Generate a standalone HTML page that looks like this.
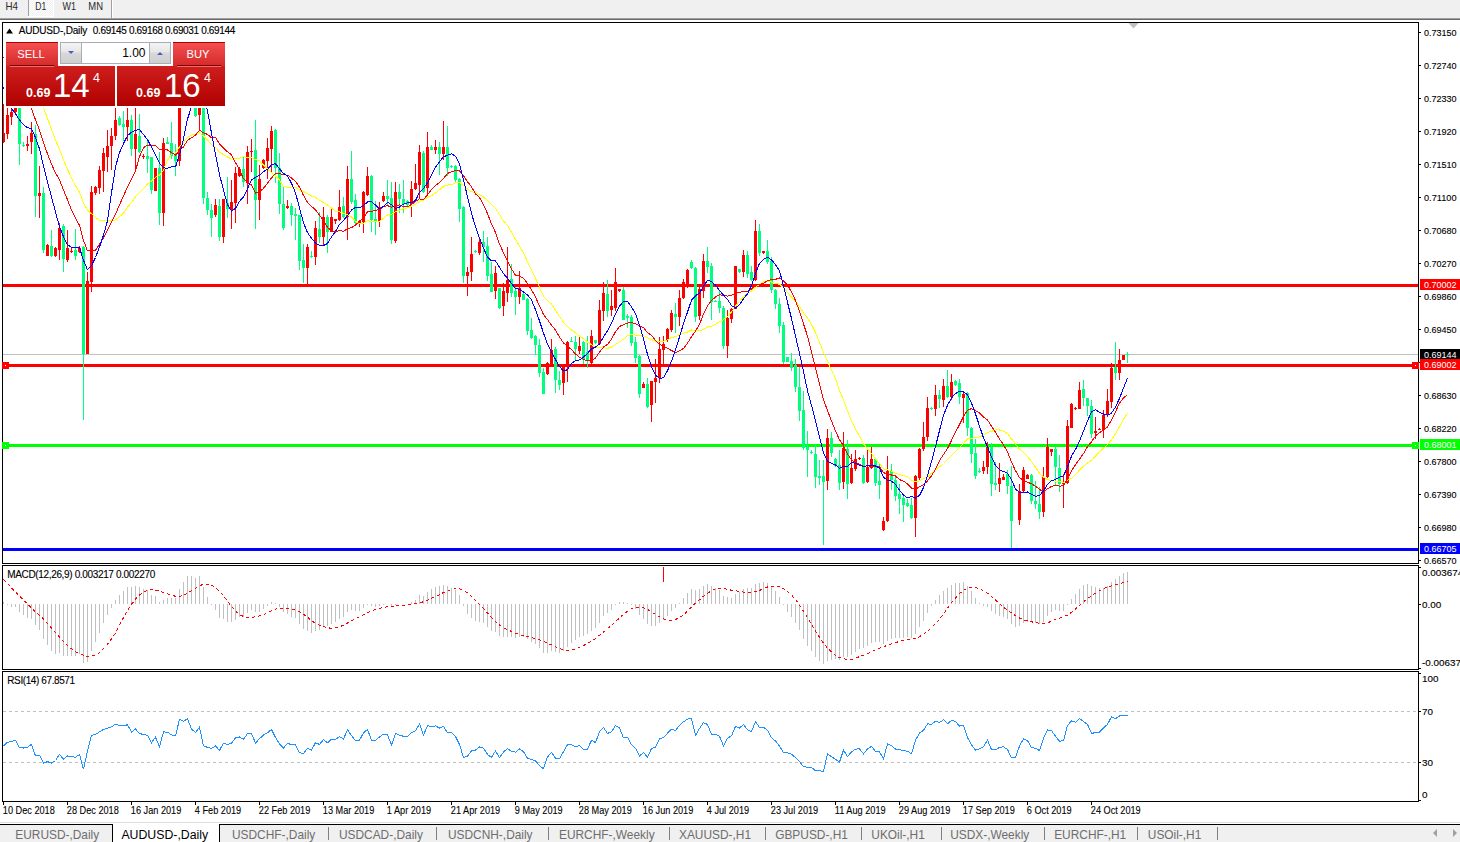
<!DOCTYPE html><html><head><meta charset="utf-8"><style>html,body{margin:0;padding:0;width:1460px;height:842px;overflow:hidden;background:#fff}svg{position:absolute;left:0;top:0;display:block}text{font-family:"Liberation Sans",sans-serif}</style></head><body>
<svg width="1460" height="842" viewBox="0 0 1460 842">
<rect x="0" y="0" width="1460" height="842" fill="#fff"/>
<g shape-rendering="crispEdges">
<rect x="0" y="0" width="1460" height="18" fill="#f0f0f0"/>
<rect x="0" y="18" width="1460" height="1" fill="#a0a0a0"/>
<rect x="0" y="19" width="1460" height="1" fill="#6a6a6a"/>
<defs><pattern id="dith" width="2" height="2" patternUnits="userSpaceOnUse"><rect width="2" height="2" fill="#f0f0f0"/><rect width="1" height="1" fill="#fff"/><rect x="1" y="1" width="1" height="1" fill="#fff"/></pattern></defs>
<rect x="29" y="0" width="24" height="16" fill="url(#dith)"/>
<rect x="28" y="0" width="1" height="16" fill="#a0a0a0"/>
<rect x="53" y="0" width="1" height="17" fill="#fff"/>
<rect x="28" y="16" width="26" height="1" fill="#fff"/>
<rect x="111" y="0" width="1" height="18" fill="#a0a0a0"/>
<rect x="112" y="0" width="1" height="18" fill="#fff"/>
</g>
<g font-size="10.3" fill="#2a2a2a">
<text x="5.5" y="10" textLength="12.5" lengthAdjust="spacingAndGlyphs">H4</text>
<text x="35.2" y="10" textLength="11" lengthAdjust="spacingAndGlyphs">D1</text>
<text x="62.5" y="10" textLength="13.5" lengthAdjust="spacingAndGlyphs">W1</text>
<text x="88.3" y="10" textLength="14.7" lengthAdjust="spacingAndGlyphs">MN</text>
</g>
<g shape-rendering="crispEdges" fill="none" stroke="#000" stroke-width="1">
<rect x="2.5" y="22.5" width="1416" height="541"/>
<rect x="2.5" y="565.5" width="1416" height="104"/>
<rect x="2.5" y="671.5" width="1416" height="130"/>
</g>
<defs><clipPath id="cmain"><rect x="3" y="23" width="1415" height="540"/></clipPath><clipPath id="cmacd"><rect x="3" y="566" width="1415" height="103"/></clipPath><clipPath id="crsi"><rect x="3" y="672" width="1415" height="129"/></clipPath></defs>
<g clip-path="url(#cmain)">
<g shape-rendering="crispEdges">
<rect x="3" y="354" width="1415" height="1" fill="#c0c0c0"/>
<rect x="3" y="284" width="1415" height="3" fill="#ff0000"/>
<rect x="3" y="364" width="1415" height="3" fill="#ff0000"/>
<rect x="3" y="444" width="1415" height="3" fill="#00ff00"/>
<rect x="3" y="548" width="1415" height="3" fill="#0000ff"/>
</g>
<g shape-rendering="crispEdges">
<rect x="3" y="104" width="1" height="39" fill="#ff0000"/><rect x="2" y="133" width="3" height="9" fill="#ff0000"/>
<rect x="7" y="104" width="1" height="35" fill="#ff0000"/><rect x="6" y="115" width="3" height="19" fill="#ff0000"/>
<rect x="11" y="104" width="1" height="21" fill="#ff0000"/><rect x="10" y="112" width="3" height="5" fill="#ff0000"/>
<rect x="15" y="104" width="1" height="11" fill="#ff0000"/><rect x="14" y="106" width="3" height="6" fill="#ff0000"/>
<rect x="19" y="100" width="1" height="65" fill="#00ff7f"/><rect x="18" y="104" width="3" height="40" fill="#00ff7f"/>
<rect x="23" y="142" width="1" height="5" fill="#00ff7f"/><rect x="22" y="145" width="3" height="1" fill="#00ff7f"/>
<rect x="27" y="136" width="1" height="15" fill="#ff0000"/><rect x="26" y="144" width="3" height="2" fill="#ff0000"/>
<rect x="31" y="122" width="1" height="32" fill="#ff0000"/><rect x="30" y="133" width="3" height="9" fill="#ff0000"/>
<rect x="35" y="125" width="1" height="92" fill="#00ff7f"/><rect x="34" y="134" width="3" height="62" fill="#00ff7f"/>
<rect x="39" y="166" width="1" height="52" fill="#ff0000"/><rect x="38" y="193" width="3" height="3" fill="#ff0000"/>
<rect x="43" y="187" width="1" height="66" fill="#00ff7f"/><rect x="42" y="193" width="3" height="57" fill="#00ff7f"/>
<rect x="47" y="244" width="1" height="12" fill="#ff0000"/><rect x="46" y="245" width="3" height="11" fill="#ff0000"/>
<rect x="51" y="230" width="1" height="27" fill="#00ff7f"/><rect x="50" y="246" width="3" height="10" fill="#00ff7f"/>
<rect x="55" y="247" width="1" height="10" fill="#ff0000"/><rect x="54" y="248" width="3" height="8" fill="#ff0000"/>
<rect x="59" y="223" width="1" height="37" fill="#ff0000"/><rect x="58" y="228" width="3" height="22" fill="#ff0000"/>
<rect x="63" y="224" width="1" height="48" fill="#00ff7f"/><rect x="62" y="226" width="3" height="33" fill="#00ff7f"/>
<rect x="67" y="230" width="1" height="32" fill="#ff0000"/><rect x="66" y="248" width="3" height="12" fill="#ff0000"/>
<rect x="71" y="247" width="1" height="6" fill="#ff0000"/><rect x="70" y="251" width="3" height="1" fill="#ff0000"/>
<rect x="75" y="229" width="1" height="31" fill="#00ff7f"/><rect x="74" y="250" width="3" height="6" fill="#00ff7f"/>
<rect x="79" y="246" width="1" height="7" fill="#ff0000"/><rect x="78" y="248" width="3" height="4" fill="#ff0000"/>
<rect x="83" y="246" width="1" height="174" fill="#00ff7f"/><rect x="82" y="247" width="3" height="107" fill="#00ff7f"/>
<rect x="87" y="272" width="1" height="82" fill="#ff0000"/><rect x="86" y="281" width="3" height="73" fill="#ff0000"/>
<rect x="91" y="186" width="1" height="106" fill="#ff0000"/><rect x="90" y="192" width="3" height="90" fill="#ff0000"/>
<rect x="95" y="186" width="1" height="9" fill="#ff0000"/><rect x="94" y="187" width="3" height="6" fill="#ff0000"/>
<rect x="99" y="166" width="1" height="28" fill="#ff0000"/><rect x="98" y="170" width="3" height="18" fill="#ff0000"/>
<rect x="103" y="148" width="1" height="44" fill="#ff0000"/><rect x="102" y="153" width="3" height="18" fill="#ff0000"/>
<rect x="107" y="130" width="1" height="42" fill="#ff0000"/><rect x="106" y="146" width="3" height="11" fill="#ff0000"/>
<rect x="111" y="128" width="1" height="42" fill="#ff0000"/><rect x="110" y="136" width="3" height="10" fill="#ff0000"/>
<rect x="115" y="104" width="1" height="36" fill="#ff0000"/><rect x="114" y="120" width="3" height="16" fill="#ff0000"/>
<rect x="119" y="116" width="1" height="10" fill="#00ff7f"/><rect x="118" y="118" width="3" height="7" fill="#00ff7f"/>
<rect x="123" y="111" width="1" height="30" fill="#00ff7f"/><rect x="122" y="124" width="3" height="3" fill="#00ff7f"/>
<rect x="127" y="104" width="1" height="37" fill="#ff0000"/><rect x="126" y="120" width="3" height="7" fill="#ff0000"/>
<rect x="131" y="115" width="1" height="41" fill="#00ff7f"/><rect x="130" y="120" width="3" height="29" fill="#00ff7f"/>
<rect x="135" y="104" width="1" height="65" fill="#ff0000"/><rect x="134" y="134" width="3" height="15" fill="#ff0000"/>
<rect x="139" y="114" width="1" height="39" fill="#00ff7f"/><rect x="138" y="136" width="3" height="16" fill="#00ff7f"/>
<rect x="143" y="154" width="1" height="5" fill="#ff0000"/><rect x="142" y="156" width="3" height="1" fill="#ff0000"/>
<rect x="147" y="141" width="1" height="32" fill="#00ff7f"/><rect x="146" y="156" width="3" height="3" fill="#00ff7f"/>
<rect x="151" y="157" width="1" height="37" fill="#00ff7f"/><rect x="150" y="157" width="3" height="33" fill="#00ff7f"/>
<rect x="155" y="168" width="1" height="23" fill="#ff0000"/><rect x="154" y="168" width="3" height="23" fill="#ff0000"/>
<rect x="159" y="152" width="1" height="73" fill="#00ff7f"/><rect x="158" y="168" width="3" height="45" fill="#00ff7f"/>
<rect x="163" y="138" width="1" height="88" fill="#ff0000"/><rect x="162" y="143" width="3" height="70" fill="#ff0000"/>
<rect x="167" y="137" width="1" height="7" fill="#00ff7f"/><rect x="166" y="142" width="3" height="2" fill="#00ff7f"/>
<rect x="171" y="122" width="1" height="37" fill="#00ff7f"/><rect x="170" y="143" width="3" height="13" fill="#00ff7f"/>
<rect x="175" y="144" width="1" height="32" fill="#00ff7f"/><rect x="174" y="153" width="3" height="8" fill="#00ff7f"/>
<rect x="179" y="55" width="1" height="111" fill="#ff0000"/><rect x="178" y="62" width="3" height="99" fill="#ff0000"/>
<rect x="183" y="45" width="1" height="35" fill="#00ff7f"/><rect x="182" y="62" width="3" height="8" fill="#00ff7f"/>
<rect x="187" y="40" width="1" height="35" fill="#ff0000"/><rect x="186" y="55" width="3" height="15" fill="#ff0000"/>
<rect x="191" y="50" width="1" height="54" fill="#00ff7f"/><rect x="190" y="55" width="3" height="45" fill="#00ff7f"/>
<rect x="195" y="90" width="1" height="27" fill="#00ff7f"/><rect x="194" y="100" width="3" height="16" fill="#00ff7f"/>
<rect x="199" y="75" width="1" height="56" fill="#ff0000"/><rect x="198" y="85" width="3" height="30" fill="#ff0000"/>
<rect x="203" y="80" width="1" height="124" fill="#00ff7f"/><rect x="202" y="85" width="3" height="113" fill="#00ff7f"/>
<rect x="207" y="192" width="1" height="23" fill="#00ff7f"/><rect x="206" y="198" width="3" height="12" fill="#00ff7f"/>
<rect x="211" y="204" width="1" height="33" fill="#00ff7f"/><rect x="210" y="210" width="3" height="8" fill="#00ff7f"/>
<rect x="215" y="199" width="1" height="18" fill="#ff0000"/><rect x="214" y="205" width="3" height="10" fill="#ff0000"/>
<rect x="219" y="199" width="1" height="42" fill="#00ff7f"/><rect x="218" y="206" width="3" height="31" fill="#00ff7f"/>
<rect x="223" y="199" width="1" height="44" fill="#ff0000"/><rect x="222" y="199" width="3" height="38" fill="#ff0000"/>
<rect x="227" y="177" width="1" height="41" fill="#00ff7f"/><rect x="226" y="203" width="3" height="6" fill="#00ff7f"/>
<rect x="231" y="180" width="1" height="49" fill="#ff0000"/><rect x="230" y="202" width="3" height="8" fill="#ff0000"/>
<rect x="235" y="167" width="1" height="56" fill="#ff0000"/><rect x="234" y="173" width="3" height="30" fill="#ff0000"/>
<rect x="239" y="167" width="1" height="10" fill="#ff0000"/><rect x="238" y="169" width="3" height="7" fill="#ff0000"/>
<rect x="243" y="157" width="1" height="30" fill="#00ff7f"/><rect x="242" y="169" width="3" height="13" fill="#00ff7f"/>
<rect x="247" y="146" width="1" height="58" fill="#ff0000"/><rect x="246" y="152" width="3" height="31" fill="#ff0000"/>
<rect x="251" y="139" width="1" height="33" fill="#ff0000"/><rect x="250" y="151" width="3" height="1" fill="#ff0000"/>
<rect x="255" y="120" width="1" height="109" fill="#00ff7f"/><rect x="254" y="150" width="3" height="50" fill="#00ff7f"/>
<rect x="259" y="165" width="1" height="55" fill="#ff0000"/><rect x="258" y="179" width="3" height="21" fill="#ff0000"/>
<rect x="263" y="159" width="1" height="10" fill="#ff0000"/><rect x="262" y="160" width="3" height="8" fill="#ff0000"/>
<rect x="267" y="138" width="1" height="41" fill="#ff0000"/><rect x="266" y="148" width="3" height="13" fill="#ff0000"/>
<rect x="271" y="126" width="1" height="46" fill="#ff0000"/><rect x="270" y="131" width="3" height="18" fill="#ff0000"/>
<rect x="275" y="129" width="1" height="54" fill="#00ff7f"/><rect x="274" y="130" width="3" height="38" fill="#00ff7f"/>
<rect x="279" y="153" width="1" height="61" fill="#00ff7f"/><rect x="278" y="168" width="3" height="36" fill="#00ff7f"/>
<rect x="283" y="187" width="1" height="43" fill="#00ff7f"/><rect x="282" y="204" width="3" height="24" fill="#00ff7f"/>
<rect x="287" y="200" width="1" height="9" fill="#ff0000"/><rect x="286" y="206" width="3" height="2" fill="#ff0000"/>
<rect x="291" y="203" width="1" height="23" fill="#00ff7f"/><rect x="290" y="206" width="3" height="9" fill="#00ff7f"/>
<rect x="295" y="208" width="1" height="32" fill="#00ff7f"/><rect x="294" y="214" width="3" height="2" fill="#00ff7f"/>
<rect x="299" y="215" width="1" height="55" fill="#00ff7f"/><rect x="298" y="215" width="3" height="46" fill="#00ff7f"/>
<rect x="303" y="244" width="1" height="39" fill="#00ff7f"/><rect x="302" y="260" width="3" height="8" fill="#00ff7f"/>
<rect x="307" y="244" width="1" height="40" fill="#ff0000"/><rect x="306" y="247" width="3" height="21" fill="#ff0000"/>
<rect x="311" y="251" width="1" height="7" fill="#00ff7f"/><rect x="310" y="256" width="3" height="1" fill="#00ff7f"/>
<rect x="315" y="221" width="1" height="44" fill="#ff0000"/><rect x="314" y="228" width="3" height="29" fill="#ff0000"/>
<rect x="319" y="212" width="1" height="31" fill="#00ff7f"/><rect x="318" y="229" width="3" height="8" fill="#00ff7f"/>
<rect x="323" y="207" width="1" height="39" fill="#ff0000"/><rect x="322" y="217" width="3" height="20" fill="#ff0000"/>
<rect x="327" y="215" width="1" height="38" fill="#00ff7f"/><rect x="326" y="217" width="3" height="15" fill="#00ff7f"/>
<rect x="331" y="209" width="1" height="23" fill="#ff0000"/><rect x="330" y="217" width="3" height="15" fill="#ff0000"/>
<rect x="335" y="219" width="1" height="5" fill="#ff0000"/><rect x="334" y="219" width="3" height="2" fill="#ff0000"/>
<rect x="339" y="190" width="1" height="31" fill="#ff0000"/><rect x="338" y="207" width="3" height="13" fill="#ff0000"/>
<rect x="343" y="197" width="1" height="21" fill="#00ff7f"/><rect x="342" y="206" width="3" height="11" fill="#00ff7f"/>
<rect x="347" y="166" width="1" height="74" fill="#ff0000"/><rect x="346" y="179" width="3" height="38" fill="#ff0000"/>
<rect x="351" y="151" width="1" height="53" fill="#00ff7f"/><rect x="350" y="179" width="3" height="23" fill="#00ff7f"/>
<rect x="355" y="194" width="1" height="32" fill="#00ff7f"/><rect x="354" y="200" width="3" height="23" fill="#00ff7f"/>
<rect x="359" y="220" width="1" height="7" fill="#ff0000"/><rect x="358" y="221" width="3" height="3" fill="#ff0000"/>
<rect x="363" y="191" width="1" height="42" fill="#ff0000"/><rect x="362" y="192" width="3" height="30" fill="#ff0000"/>
<rect x="367" y="167" width="1" height="29" fill="#ff0000"/><rect x="366" y="176" width="3" height="19" fill="#ff0000"/>
<rect x="371" y="175" width="1" height="57" fill="#00ff7f"/><rect x="370" y="176" width="3" height="44" fill="#00ff7f"/>
<rect x="375" y="201" width="1" height="34" fill="#00ff7f"/><rect x="374" y="219" width="3" height="2" fill="#00ff7f"/>
<rect x="379" y="202" width="1" height="25" fill="#ff0000"/><rect x="378" y="207" width="3" height="14" fill="#ff0000"/>
<rect x="383" y="192" width="1" height="10" fill="#ff0000"/><rect x="382" y="196" width="3" height="5" fill="#ff0000"/>
<rect x="387" y="180" width="1" height="25" fill="#00ff7f"/><rect x="386" y="196" width="3" height="3" fill="#00ff7f"/>
<rect x="391" y="182" width="1" height="62" fill="#00ff7f"/><rect x="390" y="198" width="3" height="42" fill="#00ff7f"/>
<rect x="395" y="182" width="1" height="61" fill="#ff0000"/><rect x="394" y="192" width="3" height="49" fill="#ff0000"/>
<rect x="399" y="184" width="1" height="29" fill="#00ff7f"/><rect x="398" y="192" width="3" height="7" fill="#00ff7f"/>
<rect x="403" y="180" width="1" height="33" fill="#00ff7f"/><rect x="402" y="199" width="3" height="5" fill="#00ff7f"/>
<rect x="407" y="200" width="1" height="6" fill="#00ff7f"/><rect x="406" y="201" width="3" height="4" fill="#00ff7f"/>
<rect x="411" y="181" width="1" height="36" fill="#ff0000"/><rect x="410" y="189" width="3" height="15" fill="#ff0000"/>
<rect x="415" y="164" width="1" height="26" fill="#ff0000"/><rect x="414" y="183" width="3" height="6" fill="#ff0000"/>
<rect x="419" y="145" width="1" height="53" fill="#ff0000"/><rect x="418" y="152" width="3" height="33" fill="#ff0000"/>
<rect x="423" y="151" width="1" height="42" fill="#00ff7f"/><rect x="422" y="153" width="3" height="39" fill="#00ff7f"/>
<rect x="427" y="132" width="1" height="62" fill="#ff0000"/><rect x="426" y="147" width="3" height="41" fill="#ff0000"/>
<rect x="431" y="145" width="1" height="5" fill="#00ff7f"/><rect x="430" y="147" width="3" height="3" fill="#00ff7f"/>
<rect x="435" y="140" width="1" height="14" fill="#ff0000"/><rect x="434" y="147" width="3" height="3" fill="#ff0000"/>
<rect x="439" y="142" width="1" height="33" fill="#00ff7f"/><rect x="438" y="147" width="3" height="7" fill="#00ff7f"/>
<rect x="443" y="121" width="1" height="39" fill="#ff0000"/><rect x="442" y="147" width="3" height="7" fill="#ff0000"/>
<rect x="447" y="126" width="1" height="50" fill="#00ff7f"/><rect x="446" y="147" width="3" height="21" fill="#00ff7f"/>
<rect x="451" y="165" width="1" height="3" fill="#00ff7f"/><rect x="450" y="166" width="3" height="1" fill="#00ff7f"/>
<rect x="455" y="165" width="1" height="18" fill="#00ff7f"/><rect x="454" y="166" width="3" height="14" fill="#00ff7f"/>
<rect x="459" y="178" width="1" height="44" fill="#00ff7f"/><rect x="458" y="179" width="3" height="30" fill="#00ff7f"/>
<rect x="463" y="206" width="1" height="77" fill="#00ff7f"/><rect x="462" y="207" width="3" height="69" fill="#00ff7f"/>
<rect x="467" y="267" width="1" height="29" fill="#ff0000"/><rect x="466" y="272" width="3" height="4" fill="#ff0000"/>
<rect x="471" y="237" width="1" height="44" fill="#ff0000"/><rect x="470" y="254" width="3" height="18" fill="#ff0000"/>
<rect x="475" y="250" width="1" height="3" fill="#00ff7f"/><rect x="474" y="251" width="3" height="1" fill="#00ff7f"/>
<rect x="479" y="237" width="1" height="18" fill="#ff0000"/><rect x="478" y="242" width="3" height="11" fill="#ff0000"/>
<rect x="483" y="231" width="1" height="31" fill="#00ff7f"/><rect x="482" y="242" width="3" height="5" fill="#00ff7f"/>
<rect x="487" y="237" width="1" height="44" fill="#00ff7f"/><rect x="486" y="246" width="3" height="30" fill="#00ff7f"/>
<rect x="491" y="262" width="1" height="30" fill="#00ff7f"/><rect x="490" y="274" width="3" height="18" fill="#00ff7f"/>
<rect x="495" y="266" width="1" height="33" fill="#ff0000"/><rect x="494" y="273" width="3" height="18" fill="#ff0000"/>
<rect x="499" y="288" width="1" height="21" fill="#00ff7f"/><rect x="498" y="288" width="3" height="20" fill="#00ff7f"/>
<rect x="503" y="283" width="1" height="33" fill="#ff0000"/><rect x="502" y="291" width="3" height="15" fill="#ff0000"/>
<rect x="507" y="247" width="1" height="55" fill="#ff0000"/><rect x="506" y="280" width="3" height="13" fill="#ff0000"/>
<rect x="511" y="264" width="1" height="33" fill="#00ff7f"/><rect x="510" y="279" width="3" height="14" fill="#00ff7f"/>
<rect x="515" y="287" width="1" height="28" fill="#00ff7f"/><rect x="514" y="291" width="3" height="6" fill="#00ff7f"/>
<rect x="519" y="271" width="1" height="33" fill="#ff0000"/><rect x="518" y="288" width="3" height="9" fill="#ff0000"/>
<rect x="523" y="293" width="1" height="7" fill="#00ff7f"/><rect x="522" y="294" width="3" height="6" fill="#00ff7f"/>
<rect x="527" y="298" width="1" height="37" fill="#00ff7f"/><rect x="526" y="299" width="3" height="32" fill="#00ff7f"/>
<rect x="531" y="318" width="1" height="21" fill="#00ff7f"/><rect x="530" y="330" width="3" height="8" fill="#00ff7f"/>
<rect x="535" y="335" width="1" height="20" fill="#00ff7f"/><rect x="534" y="336" width="3" height="9" fill="#00ff7f"/>
<rect x="539" y="339" width="1" height="38" fill="#00ff7f"/><rect x="538" y="345" width="3" height="28" fill="#00ff7f"/>
<rect x="543" y="368" width="1" height="26" fill="#00ff7f"/><rect x="542" y="372" width="3" height="22" fill="#00ff7f"/>
<rect x="547" y="362" width="1" height="13" fill="#ff0000"/><rect x="546" y="363" width="3" height="11" fill="#ff0000"/>
<rect x="551" y="339" width="1" height="26" fill="#ff0000"/><rect x="550" y="350" width="3" height="14" fill="#ff0000"/>
<rect x="555" y="347" width="1" height="46" fill="#00ff7f"/><rect x="554" y="349" width="3" height="31" fill="#00ff7f"/>
<rect x="559" y="371" width="1" height="19" fill="#00ff7f"/><rect x="558" y="380" width="3" height="5" fill="#00ff7f"/>
<rect x="563" y="364" width="1" height="31" fill="#ff0000"/><rect x="562" y="364" width="3" height="19" fill="#ff0000"/>
<rect x="567" y="341" width="1" height="41" fill="#ff0000"/><rect x="566" y="342" width="3" height="24" fill="#ff0000"/>
<rect x="571" y="337" width="1" height="5" fill="#00ff7f"/><rect x="570" y="341" width="3" height="1" fill="#00ff7f"/>
<rect x="575" y="336" width="1" height="24" fill="#00ff7f"/><rect x="574" y="342" width="3" height="7" fill="#00ff7f"/>
<rect x="579" y="337" width="1" height="17" fill="#ff0000"/><rect x="578" y="346" width="3" height="5" fill="#ff0000"/>
<rect x="583" y="341" width="1" height="23" fill="#00ff7f"/><rect x="582" y="342" width="3" height="18" fill="#00ff7f"/>
<rect x="587" y="336" width="1" height="32" fill="#00ff7f"/><rect x="586" y="352" width="3" height="8" fill="#00ff7f"/>
<rect x="591" y="330" width="1" height="34" fill="#ff0000"/><rect x="590" y="336" width="3" height="27" fill="#ff0000"/>
<rect x="595" y="340" width="1" height="4" fill="#00ff7f"/><rect x="594" y="340" width="3" height="3" fill="#00ff7f"/>
<rect x="599" y="300" width="1" height="45" fill="#ff0000"/><rect x="598" y="310" width="3" height="34" fill="#ff0000"/>
<rect x="603" y="282" width="1" height="39" fill="#ff0000"/><rect x="602" y="293" width="3" height="18" fill="#ff0000"/>
<rect x="607" y="280" width="1" height="37" fill="#00ff7f"/><rect x="606" y="294" width="3" height="17" fill="#00ff7f"/>
<rect x="611" y="290" width="1" height="26" fill="#ff0000"/><rect x="610" y="306" width="3" height="4" fill="#ff0000"/>
<rect x="615" y="268" width="1" height="43" fill="#ff0000"/><rect x="614" y="282" width="3" height="26" fill="#ff0000"/>
<rect x="619" y="289" width="1" height="3" fill="#ff0000"/><rect x="618" y="289" width="3" height="2" fill="#ff0000"/>
<rect x="623" y="287" width="1" height="33" fill="#00ff7f"/><rect x="622" y="290" width="3" height="30" fill="#00ff7f"/>
<rect x="627" y="314" width="1" height="14" fill="#00ff7f"/><rect x="626" y="316" width="3" height="2" fill="#00ff7f"/>
<rect x="631" y="315" width="1" height="31" fill="#00ff7f"/><rect x="630" y="317" width="3" height="26" fill="#00ff7f"/>
<rect x="635" y="337" width="1" height="26" fill="#00ff7f"/><rect x="634" y="342" width="3" height="16" fill="#00ff7f"/>
<rect x="639" y="355" width="1" height="43" fill="#00ff7f"/><rect x="638" y="356" width="3" height="38" fill="#00ff7f"/>
<rect x="643" y="382" width="1" height="6" fill="#ff0000"/><rect x="642" y="384" width="3" height="4" fill="#ff0000"/>
<rect x="647" y="378" width="1" height="30" fill="#00ff7f"/><rect x="646" y="384" width="3" height="23" fill="#00ff7f"/>
<rect x="651" y="381" width="1" height="41" fill="#ff0000"/><rect x="650" y="381" width="3" height="24" fill="#ff0000"/>
<rect x="655" y="359" width="1" height="44" fill="#ff0000"/><rect x="654" y="378" width="3" height="4" fill="#ff0000"/>
<rect x="659" y="337" width="1" height="46" fill="#ff0000"/><rect x="658" y="349" width="3" height="29" fill="#ff0000"/>
<rect x="663" y="336" width="1" height="30" fill="#ff0000"/><rect x="662" y="344" width="3" height="6" fill="#ff0000"/>
<rect x="667" y="328" width="1" height="14" fill="#ff0000"/><rect x="666" y="329" width="3" height="11" fill="#ff0000"/>
<rect x="671" y="310" width="1" height="22" fill="#ff0000"/><rect x="670" y="313" width="3" height="17" fill="#ff0000"/>
<rect x="675" y="303" width="1" height="30" fill="#00ff7f"/><rect x="674" y="314" width="3" height="3" fill="#00ff7f"/>
<rect x="679" y="290" width="1" height="36" fill="#ff0000"/><rect x="678" y="298" width="3" height="19" fill="#ff0000"/>
<rect x="683" y="279" width="1" height="20" fill="#ff0000"/><rect x="682" y="282" width="3" height="16" fill="#ff0000"/>
<rect x="687" y="269" width="1" height="19" fill="#ff0000"/><rect x="686" y="270" width="3" height="17" fill="#ff0000"/>
<rect x="691" y="260" width="1" height="9" fill="#00ff7f"/><rect x="690" y="262" width="3" height="6" fill="#00ff7f"/>
<rect x="695" y="267" width="1" height="55" fill="#00ff7f"/><rect x="694" y="268" width="3" height="49" fill="#00ff7f"/>
<rect x="699" y="287" width="1" height="33" fill="#ff0000"/><rect x="698" y="289" width="3" height="27" fill="#ff0000"/>
<rect x="703" y="254" width="1" height="44" fill="#ff0000"/><rect x="702" y="261" width="3" height="30" fill="#ff0000"/>
<rect x="707" y="247" width="1" height="26" fill="#00ff7f"/><rect x="706" y="261" width="3" height="6" fill="#00ff7f"/>
<rect x="711" y="263" width="1" height="57" fill="#00ff7f"/><rect x="710" y="266" width="3" height="36" fill="#00ff7f"/>
<rect x="715" y="300" width="1" height="2" fill="#00ff7f"/><rect x="714" y="301" width="3" height="1" fill="#00ff7f"/>
<rect x="719" y="291" width="1" height="22" fill="#00ff7f"/><rect x="718" y="301" width="3" height="7" fill="#00ff7f"/>
<rect x="723" y="306" width="1" height="43" fill="#00ff7f"/><rect x="722" y="308" width="3" height="38" fill="#00ff7f"/>
<rect x="727" y="310" width="1" height="48" fill="#ff0000"/><rect x="726" y="318" width="3" height="28" fill="#ff0000"/>
<rect x="731" y="308" width="1" height="15" fill="#ff0000"/><rect x="730" y="309" width="3" height="10" fill="#ff0000"/>
<rect x="735" y="266" width="1" height="43" fill="#ff0000"/><rect x="734" y="266" width="3" height="43" fill="#ff0000"/>
<rect x="739" y="269" width="1" height="4" fill="#00ff7f"/><rect x="738" y="269" width="3" height="3" fill="#00ff7f"/>
<rect x="743" y="250" width="1" height="27" fill="#ff0000"/><rect x="742" y="255" width="3" height="17" fill="#ff0000"/>
<rect x="747" y="251" width="1" height="27" fill="#00ff7f"/><rect x="746" y="255" width="3" height="19" fill="#00ff7f"/>
<rect x="751" y="266" width="1" height="15" fill="#00ff7f"/><rect x="750" y="272" width="3" height="8" fill="#00ff7f"/>
<rect x="755" y="220" width="1" height="61" fill="#ff0000"/><rect x="754" y="231" width="3" height="49" fill="#ff0000"/>
<rect x="759" y="224" width="1" height="32" fill="#00ff7f"/><rect x="758" y="231" width="3" height="22" fill="#00ff7f"/>
<rect x="763" y="251" width="1" height="3" fill="#ff0000"/><rect x="762" y="251" width="3" height="2" fill="#ff0000"/>
<rect x="767" y="240" width="1" height="24" fill="#00ff7f"/><rect x="766" y="251" width="3" height="11" fill="#00ff7f"/>
<rect x="771" y="257" width="1" height="36" fill="#00ff7f"/><rect x="770" y="261" width="3" height="29" fill="#00ff7f"/>
<rect x="775" y="289" width="1" height="20" fill="#00ff7f"/><rect x="774" y="290" width="3" height="14" fill="#00ff7f"/>
<rect x="779" y="298" width="1" height="35" fill="#00ff7f"/><rect x="778" y="304" width="3" height="22" fill="#00ff7f"/>
<rect x="783" y="322" width="1" height="42" fill="#00ff7f"/><rect x="782" y="325" width="3" height="37" fill="#00ff7f"/>
<rect x="787" y="357" width="1" height="5" fill="#00ff7f"/><rect x="786" y="357" width="3" height="5" fill="#00ff7f"/>
<rect x="791" y="353" width="1" height="18" fill="#00ff7f"/><rect x="790" y="361" width="3" height="7" fill="#00ff7f"/>
<rect x="795" y="359" width="1" height="33" fill="#00ff7f"/><rect x="794" y="365" width="3" height="22" fill="#00ff7f"/>
<rect x="799" y="367" width="1" height="54" fill="#00ff7f"/><rect x="798" y="387" width="3" height="24" fill="#00ff7f"/>
<rect x="803" y="391" width="1" height="59" fill="#00ff7f"/><rect x="802" y="410" width="3" height="38" fill="#00ff7f"/>
<rect x="807" y="431" width="1" height="46" fill="#00ff7f"/><rect x="806" y="447" width="3" height="3" fill="#00ff7f"/>
<rect x="811" y="450" width="1" height="4" fill="#00ff7f"/><rect x="810" y="452" width="3" height="1" fill="#00ff7f"/>
<rect x="815" y="444" width="1" height="44" fill="#00ff7f"/><rect x="814" y="454" width="3" height="23" fill="#00ff7f"/>
<rect x="819" y="460" width="1" height="25" fill="#00ff7f"/><rect x="818" y="476" width="3" height="2" fill="#00ff7f"/>
<rect x="823" y="460" width="1" height="85" fill="#00ff7f"/><rect x="822" y="476" width="3" height="6" fill="#00ff7f"/>
<rect x="827" y="429" width="1" height="61" fill="#ff0000"/><rect x="826" y="438" width="3" height="43" fill="#ff0000"/>
<rect x="831" y="432" width="1" height="25" fill="#00ff7f"/><rect x="830" y="438" width="3" height="15" fill="#00ff7f"/>
<rect x="835" y="458" width="1" height="9" fill="#00ff7f"/><rect x="834" y="459" width="3" height="7" fill="#00ff7f"/>
<rect x="839" y="450" width="1" height="40" fill="#00ff7f"/><rect x="838" y="465" width="3" height="18" fill="#00ff7f"/>
<rect x="843" y="432" width="1" height="57" fill="#ff0000"/><rect x="842" y="448" width="3" height="34" fill="#ff0000"/>
<rect x="847" y="440" width="1" height="59" fill="#00ff7f"/><rect x="846" y="449" width="3" height="35" fill="#00ff7f"/>
<rect x="851" y="454" width="1" height="30" fill="#ff0000"/><rect x="850" y="468" width="3" height="15" fill="#ff0000"/>
<rect x="855" y="450" width="1" height="21" fill="#ff0000"/><rect x="854" y="459" width="3" height="10" fill="#ff0000"/>
<rect x="859" y="457" width="1" height="3" fill="#ff0000"/><rect x="858" y="458" width="3" height="1" fill="#ff0000"/>
<rect x="863" y="455" width="1" height="29" fill="#00ff7f"/><rect x="862" y="458" width="3" height="25" fill="#00ff7f"/>
<rect x="867" y="450" width="1" height="33" fill="#ff0000"/><rect x="866" y="468" width="3" height="14" fill="#ff0000"/>
<rect x="871" y="447" width="1" height="22" fill="#ff0000"/><rect x="870" y="459" width="3" height="9" fill="#ff0000"/>
<rect x="875" y="458" width="1" height="28" fill="#00ff7f"/><rect x="874" y="459" width="3" height="24" fill="#00ff7f"/>
<rect x="879" y="464" width="1" height="35" fill="#00ff7f"/><rect x="878" y="481" width="3" height="4" fill="#00ff7f"/>
<rect x="883" y="517" width="1" height="14" fill="#ff0000"/><rect x="882" y="521" width="3" height="9" fill="#ff0000"/>
<rect x="887" y="456" width="1" height="66" fill="#ff0000"/><rect x="886" y="471" width="3" height="50" fill="#ff0000"/>
<rect x="891" y="464" width="1" height="26" fill="#00ff7f"/><rect x="890" y="471" width="3" height="9" fill="#00ff7f"/>
<rect x="895" y="476" width="1" height="25" fill="#00ff7f"/><rect x="894" y="480" width="3" height="16" fill="#00ff7f"/>
<rect x="899" y="484" width="1" height="30" fill="#00ff7f"/><rect x="898" y="494" width="3" height="5" fill="#00ff7f"/>
<rect x="903" y="495" width="1" height="27" fill="#00ff7f"/><rect x="902" y="498" width="3" height="7" fill="#00ff7f"/>
<rect x="907" y="499" width="1" height="8" fill="#00ff7f"/><rect x="906" y="503" width="3" height="3" fill="#00ff7f"/>
<rect x="911" y="498" width="1" height="21" fill="#00ff7f"/><rect x="910" y="505" width="3" height="13" fill="#00ff7f"/>
<rect x="915" y="475" width="1" height="62" fill="#ff0000"/><rect x="914" y="476" width="3" height="42" fill="#ff0000"/>
<rect x="919" y="448" width="1" height="32" fill="#ff0000"/><rect x="918" y="449" width="3" height="29" fill="#ff0000"/>
<rect x="923" y="422" width="1" height="29" fill="#ff0000"/><rect x="922" y="437" width="3" height="12" fill="#ff0000"/>
<rect x="927" y="397" width="1" height="44" fill="#ff0000"/><rect x="926" y="408" width="3" height="29" fill="#ff0000"/>
<rect x="931" y="407" width="1" height="3" fill="#00ff7f"/><rect x="930" y="408" width="3" height="1" fill="#00ff7f"/>
<rect x="935" y="385" width="1" height="31" fill="#ff0000"/><rect x="934" y="395" width="3" height="14" fill="#ff0000"/>
<rect x="939" y="390" width="1" height="18" fill="#00ff7f"/><rect x="938" y="395" width="3" height="4" fill="#00ff7f"/>
<rect x="943" y="379" width="1" height="28" fill="#ff0000"/><rect x="942" y="386" width="3" height="14" fill="#ff0000"/>
<rect x="947" y="370" width="1" height="28" fill="#00ff7f"/><rect x="946" y="386" width="3" height="11" fill="#00ff7f"/>
<rect x="951" y="374" width="1" height="26" fill="#ff0000"/><rect x="950" y="382" width="3" height="15" fill="#ff0000"/>
<rect x="955" y="380" width="1" height="6" fill="#00ff7f"/><rect x="954" y="381" width="3" height="4" fill="#00ff7f"/>
<rect x="959" y="379" width="1" height="25" fill="#00ff7f"/><rect x="958" y="383" width="3" height="14" fill="#00ff7f"/>
<rect x="963" y="393" width="1" height="30" fill="#ff0000"/><rect x="962" y="394" width="3" height="4" fill="#ff0000"/>
<rect x="967" y="392" width="1" height="44" fill="#00ff7f"/><rect x="966" y="393" width="3" height="35" fill="#00ff7f"/>
<rect x="971" y="427" width="1" height="36" fill="#00ff7f"/><rect x="970" y="428" width="3" height="26" fill="#00ff7f"/>
<rect x="975" y="439" width="1" height="40" fill="#00ff7f"/><rect x="974" y="453" width="3" height="23" fill="#00ff7f"/>
<rect x="979" y="468" width="1" height="5" fill="#00ff7f"/><rect x="978" y="471" width="3" height="1" fill="#00ff7f"/>
<rect x="983" y="461" width="1" height="13" fill="#ff0000"/><rect x="982" y="467" width="3" height="4" fill="#ff0000"/>
<rect x="987" y="442" width="1" height="32" fill="#ff0000"/><rect x="986" y="447" width="3" height="20" fill="#ff0000"/>
<rect x="991" y="443" width="1" height="53" fill="#00ff7f"/><rect x="990" y="447" width="3" height="37" fill="#00ff7f"/>
<rect x="995" y="462" width="1" height="28" fill="#00ff7f"/><rect x="994" y="483" width="3" height="2" fill="#00ff7f"/>
<rect x="999" y="463" width="1" height="29" fill="#ff0000"/><rect x="998" y="478" width="3" height="6" fill="#ff0000"/>
<rect x="1003" y="474" width="1" height="6" fill="#ff0000"/><rect x="1002" y="477" width="3" height="3" fill="#ff0000"/>
<rect x="1007" y="470" width="1" height="24" fill="#00ff7f"/><rect x="1006" y="474" width="3" height="12" fill="#00ff7f"/>
<rect x="1011" y="466" width="1" height="82" fill="#00ff7f"/><rect x="1010" y="486" width="3" height="35" fill="#00ff7f"/>
<rect x="1019" y="484" width="1" height="41" fill="#ff0000"/><rect x="1018" y="491" width="3" height="29" fill="#ff0000"/>
<rect x="1023" y="467" width="1" height="25" fill="#ff0000"/><rect x="1022" y="470" width="3" height="21" fill="#ff0000"/>
<rect x="1027" y="474" width="1" height="5" fill="#ff0000"/><rect x="1026" y="475" width="3" height="4" fill="#ff0000"/>
<rect x="1031" y="474" width="1" height="30" fill="#00ff7f"/><rect x="1030" y="475" width="3" height="26" fill="#00ff7f"/>
<rect x="1035" y="481" width="1" height="28" fill="#00ff7f"/><rect x="1034" y="501" width="3" height="3" fill="#00ff7f"/>
<rect x="1039" y="487" width="1" height="32" fill="#00ff7f"/><rect x="1038" y="504" width="3" height="8" fill="#00ff7f"/>
<rect x="1043" y="467" width="1" height="50" fill="#ff0000"/><rect x="1042" y="477" width="3" height="35" fill="#ff0000"/>
<rect x="1047" y="438" width="1" height="40" fill="#ff0000"/><rect x="1046" y="447" width="3" height="30" fill="#ff0000"/>
<rect x="1051" y="449" width="1" height="7" fill="#ff0000"/><rect x="1050" y="449" width="3" height="3" fill="#ff0000"/>
<rect x="1055" y="447" width="1" height="39" fill="#00ff7f"/><rect x="1054" y="449" width="3" height="18" fill="#00ff7f"/>
<rect x="1059" y="455" width="1" height="37" fill="#00ff7f"/><rect x="1058" y="468" width="3" height="16" fill="#00ff7f"/>
<rect x="1063" y="474" width="1" height="34" fill="#ff0000"/><rect x="1062" y="483" width="3" height="1" fill="#ff0000"/>
<rect x="1067" y="420" width="1" height="64" fill="#ff0000"/><rect x="1066" y="426" width="3" height="57" fill="#ff0000"/>
<rect x="1071" y="403" width="1" height="25" fill="#ff0000"/><rect x="1070" y="404" width="3" height="24" fill="#ff0000"/>
<rect x="1075" y="407" width="1" height="3" fill="#ff0000"/><rect x="1074" y="408" width="3" height="1" fill="#ff0000"/>
<rect x="1079" y="382" width="1" height="27" fill="#ff0000"/><rect x="1078" y="390" width="3" height="19" fill="#ff0000"/>
<rect x="1083" y="380" width="1" height="26" fill="#00ff7f"/><rect x="1082" y="389" width="3" height="9" fill="#00ff7f"/>
<rect x="1087" y="398" width="1" height="18" fill="#00ff7f"/><rect x="1086" y="398" width="3" height="8" fill="#00ff7f"/>
<rect x="1091" y="400" width="1" height="38" fill="#00ff7f"/><rect x="1090" y="406" width="3" height="28" fill="#00ff7f"/>
<rect x="1095" y="417" width="1" height="22" fill="#ff0000"/><rect x="1094" y="431" width="3" height="2" fill="#ff0000"/>
<rect x="1099" y="428" width="1" height="2" fill="#ff0000"/><rect x="1098" y="429" width="3" height="1" fill="#ff0000"/>
<rect x="1103" y="410" width="1" height="28" fill="#ff0000"/><rect x="1102" y="415" width="3" height="15" fill="#ff0000"/>
<rect x="1107" y="389" width="1" height="28" fill="#ff0000"/><rect x="1106" y="401" width="3" height="14" fill="#ff0000"/>
<rect x="1111" y="363" width="1" height="45" fill="#ff0000"/><rect x="1110" y="368" width="3" height="34" fill="#ff0000"/>
<rect x="1115" y="342" width="1" height="38" fill="#00ff7f"/><rect x="1114" y="367" width="3" height="6" fill="#00ff7f"/>
<rect x="1119" y="349" width="1" height="31" fill="#ff0000"/><rect x="1118" y="360" width="3" height="13" fill="#ff0000"/>
<rect x="1123" y="355" width="1" height="5" fill="#ff0000"/><rect x="1122" y="355" width="3" height="5" fill="#ff0000"/>
<rect x="1127" y="352" width="1" height="11" fill="#00ff7f"/><rect x="1126" y="354" width="3" height="1" fill="#00ff7f"/>
</g>
<polyline points="3.5,46.6 7.5,50.9 11.5,55.0 15.5,58.9 19.5,64.6 23.5,70.3 27.5,76.0 31.5,81.1 35.5,89.2 39.5,97.2 43.5,107.9 47.5,118.4 51.5,129.4 55.5,139.9 59.5,149.3 63.5,159.9 67.5,169.3 71.5,177.9 75.5,185.7 79.5,192.2 83.5,203.1 87.5,210.1 91.5,213.8 95.5,217.4 99.5,220.4 103.5,220.9 107.5,220.9 111.5,220.5 115.5,219.9 119.5,216.5 123.5,213.3 127.5,207.1 131.5,202.6 135.5,196.8 139.5,192.2 143.5,188.8 147.5,184.0 151.5,181.2 155.5,177.3 159.5,175.2 163.5,170.2 167.5,160.2 171.5,154.3 175.5,152.8 179.5,146.9 183.5,142.1 187.5,137.4 191.5,135.2 195.5,134.3 199.5,132.6 203.5,136.1 207.5,140.0 211.5,144.7 215.5,147.4 219.5,152.3 223.5,154.5 227.5,157.0 231.5,159.1 235.5,158.3 239.5,158.3 243.5,156.9 247.5,157.3 251.5,157.6 255.5,159.7 259.5,160.6 263.5,165.2 267.5,169.0 271.5,172.6 275.5,175.8 279.5,180.0 283.5,186.8 287.5,187.2 291.5,187.4 295.5,187.3 299.5,190.0 303.5,191.5 307.5,193.8 311.5,196.0 315.5,197.3 319.5,200.3 323.5,202.6 327.5,205.0 331.5,208.1 335.5,211.3 339.5,211.7 343.5,213.5 347.5,214.4 351.5,217.0 355.5,221.3 359.5,223.9 363.5,223.3 367.5,220.8 371.5,221.5 375.5,221.8 379.5,221.3 383.5,218.2 387.5,215.0 391.5,214.6 395.5,211.5 399.5,210.1 403.5,208.6 407.5,208.0 411.5,206.0 415.5,204.3 419.5,201.1 423.5,200.4 427.5,197.1 431.5,195.7 435.5,193.1 439.5,189.8 443.5,186.3 447.5,185.1 451.5,184.7 455.5,182.8 459.5,182.2 463.5,185.5 467.5,189.1 471.5,191.8 475.5,192.3 479.5,194.7 483.5,197.0 487.5,200.4 491.5,204.6 495.5,208.6 499.5,214.5 503.5,221.1 507.5,225.3 511.5,232.3 515.5,239.3 519.5,246.0 523.5,253.0 527.5,261.7 531.5,269.8 535.5,278.3 539.5,287.5 543.5,296.3 547.5,300.4 551.5,304.1 555.5,310.1 559.5,316.5 563.5,322.3 567.5,326.8 571.5,330.0 575.5,332.7 579.5,336.1 583.5,338.6 587.5,341.9 591.5,344.6 595.5,347.0 599.5,347.6 603.5,347.8 607.5,348.3 611.5,347.1 615.5,344.5 619.5,341.8 623.5,339.3 627.5,335.7 631.5,334.7 635.5,335.1 639.5,335.8 643.5,335.7 647.5,337.8 651.5,339.6 655.5,341.3 659.5,341.3 663.5,341.2 667.5,339.8 671.5,337.5 675.5,336.6 679.5,334.5 683.5,333.1 687.5,332.0 691.5,330.0 695.5,330.5 699.5,330.9 703.5,329.5 707.5,327.0 711.5,326.2 715.5,324.3 719.5,321.9 723.5,319.6 727.5,316.5 731.5,311.8 735.5,306.3 739.5,301.3 743.5,296.8 747.5,293.5 751.5,291.1 755.5,287.2 759.5,284.2 763.5,282.0 767.5,281.0 771.5,282.0 775.5,283.7 779.5,284.1 783.5,287.6 787.5,292.4 791.5,297.2 795.5,301.2 799.5,306.4 803.5,313.1 807.5,318.0 811.5,324.5 815.5,332.5 819.5,342.6 823.5,352.6 827.5,361.3 831.5,369.8 835.5,378.7 839.5,390.7 843.5,400.0 847.5,411.0 851.5,420.9 855.5,428.9 859.5,436.2 863.5,443.7 867.5,448.8 871.5,453.4 875.5,458.9 879.5,463.5 883.5,468.8 887.5,469.9 891.5,471.3 895.5,473.3 899.5,474.4 903.5,475.7 907.5,476.8 911.5,480.6 915.5,481.7 919.5,480.9 923.5,478.7 927.5,476.8 931.5,473.2 935.5,469.8 939.5,466.9 943.5,463.5 947.5,459.4 951.5,455.3 955.5,451.8 959.5,447.7 963.5,443.3 967.5,438.9 971.5,438.1 975.5,437.9 979.5,436.8 983.5,435.2 987.5,432.5 991.5,431.4 995.5,429.9 999.5,430.0 1003.5,431.3 1007.5,433.6 1011.5,439.0 1015.5,444.3 1019.5,448.9 1023.5,452.3 1027.5,456.5 1031.5,461.5 1035.5,467.3 1039.5,473.3 1043.5,477.1 1047.5,479.7 1051.5,480.7 1055.5,481.3 1059.5,481.7 1063.5,482.2 1067.5,480.2 1071.5,478.2 1075.5,474.6 1079.5,470.0 1083.5,466.2 1087.5,462.9 1091.5,460.4 1095.5,456.1 1099.5,451.7 1103.5,448.1 1107.5,444.8 1111.5,439.7 1115.5,433.6 1119.5,426.8 1123.5,419.3 1127.5,413.5" fill="none" stroke="#ffff00" stroke-width="1" shape-rendering="crispEdges"/>
<polyline points="3.5,57.4 7.5,63.8 11.5,70.0 15.5,75.8 19.5,84.2 23.5,92.8 27.5,101.1 31.5,108.5 35.5,119.9 39.5,130.1 43.5,142.9 47.5,153.8 51.5,164.1 55.5,172.9 59.5,179.7 63.5,190.0 67.5,199.7 71.5,210.1 75.5,218.1 79.5,225.4 83.5,240.4 87.5,250.9 91.5,250.6 95.5,250.2 99.5,244.5 103.5,237.9 107.5,230.1 111.5,222.1 115.5,214.4 119.5,204.8 123.5,196.1 127.5,186.8 131.5,179.1 135.5,171.0 139.5,156.6 143.5,147.6 147.5,145.3 151.5,145.5 155.5,145.4 159.5,149.6 163.5,149.4 167.5,150.0 171.5,152.6 175.5,155.1 179.5,150.5 183.5,146.9 187.5,140.2 191.5,137.8 195.5,135.2 199.5,130.1 203.5,132.9 207.5,134.4 211.5,137.9 215.5,137.4 219.5,144.1 223.5,148.0 227.5,151.8 231.5,154.7 235.5,162.6 239.5,169.7 243.5,178.8 247.5,182.5 251.5,185.0 255.5,193.2 259.5,191.9 263.5,188.3 267.5,183.3 271.5,178.0 275.5,173.1 279.5,173.4 283.5,174.8 287.5,175.1 291.5,178.1 295.5,181.4 299.5,187.1 303.5,195.4 307.5,202.2 311.5,206.3 315.5,209.8 319.5,215.3 323.5,220.2 327.5,227.4 331.5,230.9 335.5,232.0 339.5,230.5 343.5,231.3 347.5,228.7 351.5,227.7 355.5,225.0 359.5,221.6 363.5,217.7 367.5,211.9 371.5,211.4 375.5,210.2 379.5,209.5 383.5,206.9 387.5,205.6 391.5,207.1 395.5,206.1 399.5,204.8 403.5,206.6 407.5,206.8 411.5,204.4 415.5,201.6 419.5,198.8 423.5,199.9 427.5,194.7 431.5,189.6 435.5,185.4 439.5,182.4 443.5,178.6 447.5,173.5 451.5,171.7 455.5,170.4 459.5,170.7 463.5,175.8 467.5,181.7 471.5,186.8 475.5,193.9 479.5,197.5 483.5,204.6 487.5,213.6 491.5,224.0 495.5,232.5 499.5,244.0 503.5,252.8 507.5,260.9 511.5,268.9 515.5,275.2 519.5,276.1 523.5,278.1 527.5,283.6 531.5,289.7 535.5,297.1 539.5,306.1 543.5,314.5 547.5,319.6 551.5,325.1 555.5,330.2 559.5,336.9 563.5,342.9 567.5,346.4 571.5,349.6 575.5,354.0 579.5,357.3 583.5,359.4 587.5,360.9 591.5,360.3 595.5,358.1 599.5,352.1 603.5,347.1 607.5,344.4 611.5,339.1 615.5,331.7 619.5,326.4 623.5,324.8 627.5,323.1 631.5,322.6 635.5,323.5 639.5,325.9 643.5,327.6 647.5,332.7 651.5,335.4 655.5,340.3 659.5,344.3 663.5,346.6 667.5,348.3 671.5,350.5 675.5,352.5 679.5,350.9 683.5,348.4 687.5,343.1 691.5,336.7 695.5,331.2 699.5,324.4 703.5,314.0 707.5,305.9 711.5,300.4 715.5,297.1 719.5,294.5 723.5,295.7 727.5,296.1 731.5,295.5 735.5,293.2 739.5,292.5 743.5,291.4 747.5,291.9 751.5,289.2 755.5,285.1 759.5,284.5 763.5,283.4 767.5,280.5 771.5,279.6 775.5,279.4 779.5,277.9 783.5,281.1 787.5,284.9 791.5,292.1 795.5,300.4 799.5,311.5 803.5,323.9 807.5,336.1 811.5,351.9 815.5,367.9 819.5,384.1 823.5,399.9 827.5,410.4 831.5,421.1 835.5,431.1 839.5,439.7 843.5,445.9 847.5,454.1 851.5,459.9 855.5,463.4 859.5,464.1 863.5,466.4 867.5,467.5 871.5,466.2 875.5,466.6 879.5,466.8 883.5,472.7 887.5,474.0 891.5,475.0 895.5,475.9 899.5,479.6 903.5,481.1 907.5,483.8 911.5,488.0 915.5,489.3 919.5,486.9 923.5,484.6 927.5,481.0 931.5,475.7 935.5,469.3 939.5,460.6 943.5,454.5 947.5,448.6 951.5,440.4 955.5,432.3 959.5,424.6 963.5,416.6 967.5,410.1 971.5,408.6 975.5,410.5 979.5,413.0 983.5,417.2 987.5,419.9 991.5,426.3 995.5,432.4 999.5,439.0 1003.5,444.7 1007.5,452.1 1011.5,461.9 1015.5,470.7 1019.5,477.6 1023.5,480.6 1027.5,482.1 1031.5,483.9 1035.5,486.2 1039.5,489.4 1043.5,491.6 1047.5,488.9 1051.5,486.4 1055.5,485.6 1059.5,486.1 1063.5,485.9 1067.5,479.1 1071.5,470.7 1075.5,464.8 1079.5,459.1 1083.5,453.6 1087.5,446.8 1091.5,441.8 1095.5,436.0 1099.5,432.6 1103.5,430.3 1107.5,426.9 1111.5,419.8 1115.5,411.9 1119.5,403.1 1123.5,398.0 1127.5,394.5" fill="none" stroke="#ff0000" stroke-width="1" shape-rendering="crispEdges"/>
<polyline points="3.5,87.5 7.5,99.3 11.5,108.4 15.5,113.8 19.5,120.0 23.5,124.8 27.5,127.6 31.5,129.0 35.5,137.5 39.5,148.8 43.5,166.1 47.5,182.1 51.5,196.8 55.5,212.1 59.5,226.5 63.5,236.8 67.5,244.6 71.5,247.5 75.5,247.5 79.5,247.7 83.5,260.4 87.5,269.8 91.5,265.7 95.5,257.5 99.5,247.0 103.5,235.0 107.5,220.8 111.5,192.9 115.5,167.0 119.5,152.6 123.5,143.6 127.5,135.7 131.5,132.2 135.5,130.3 139.5,129.6 143.5,134.6 147.5,139.6 151.5,147.3 155.5,155.0 159.5,163.1 163.5,167.9 167.5,168.2 171.5,166.7 175.5,167.0 179.5,154.8 183.5,139.0 187.5,119.0 191.5,106.9 195.5,102.0 199.5,95.1 203.5,95.1 207.5,111.0 211.5,133.1 215.5,154.6 219.5,174.8 223.5,189.9 227.5,204.8 231.5,211.0 235.5,208.4 239.5,201.4 243.5,196.9 247.5,188.6 251.5,180.0 255.5,177.4 259.5,175.2 263.5,171.6 267.5,169.3 271.5,164.7 275.5,163.7 279.5,168.9 283.5,173.4 287.5,175.9 291.5,183.3 295.5,192.8 299.5,207.9 303.5,222.9 307.5,232.6 311.5,238.3 315.5,243.0 319.5,245.3 323.5,245.6 327.5,243.4 331.5,236.9 335.5,231.5 339.5,224.5 343.5,220.6 347.5,215.5 351.5,210.1 355.5,207.4 359.5,207.9 363.5,205.7 367.5,201.9 371.5,201.7 375.5,205.1 379.5,208.9 383.5,206.3 387.5,202.3 391.5,204.7 395.5,208.4 399.5,207.0 403.5,204.1 407.5,202.9 411.5,202.8 415.5,200.5 419.5,192.4 423.5,188.5 427.5,182.7 431.5,175.4 435.5,167.3 439.5,161.8 443.5,156.6 447.5,155.4 451.5,153.7 455.5,156.3 459.5,164.1 463.5,179.6 467.5,196.9 471.5,213.3 475.5,226.9 479.5,238.0 483.5,248.1 487.5,256.9 491.5,260.8 495.5,260.9 499.5,267.2 503.5,273.7 507.5,278.2 511.5,283.6 515.5,288.6 519.5,289.4 523.5,292.0 527.5,294.9 531.5,299.9 535.5,309.7 539.5,320.9 543.5,333.1 547.5,344.4 551.5,352.0 555.5,359.5 559.5,366.7 563.5,370.9 567.5,369.7 571.5,363.3 575.5,360.7 579.5,359.9 583.5,357.2 587.5,353.3 591.5,348.9 595.5,347.1 599.5,344.0 603.5,336.9 607.5,330.7 611.5,323.4 615.5,313.8 619.5,306.1 623.5,301.4 627.5,301.6 631.5,306.8 635.5,313.9 639.5,325.1 643.5,339.0 647.5,354.4 651.5,366.7 655.5,375.2 659.5,378.3 663.5,377.8 667.5,370.7 671.5,361.2 675.5,349.8 679.5,337.0 683.5,323.6 687.5,312.1 691.5,300.2 695.5,295.8 699.5,293.0 703.5,286.3 707.5,280.3 711.5,281.5 715.5,285.1 719.5,290.6 723.5,295.1 727.5,299.4 731.5,305.5 735.5,308.0 739.5,304.7 743.5,298.9 747.5,293.7 751.5,285.4 755.5,273.3 759.5,263.4 763.5,259.4 767.5,257.1 771.5,259.9 775.5,264.6 779.5,270.8 783.5,285.8 787.5,302.4 791.5,318.4 795.5,336.1 799.5,353.2 803.5,371.6 807.5,390.7 811.5,405.4 815.5,421.0 819.5,436.8 823.5,453.4 827.5,461.0 831.5,463.5 835.5,465.0 839.5,468.2 843.5,466.3 847.5,466.3 851.5,462.4 855.5,463.5 859.5,465.1 863.5,466.6 867.5,465.5 871.5,465.8 875.5,466.0 879.5,468.0 883.5,477.0 887.5,480.5 891.5,481.1 895.5,484.5 899.5,490.3 903.5,494.9 907.5,497.9 911.5,496.3 915.5,498.1 919.5,495.4 923.5,487.7 927.5,475.7 931.5,461.6 935.5,446.6 939.5,430.5 943.5,415.4 947.5,405.3 951.5,398.0 955.5,393.5 959.5,391.3 963.5,392.0 967.5,394.8 971.5,403.0 975.5,413.9 979.5,426.1 983.5,438.0 987.5,446.8 991.5,456.9 995.5,465.5 999.5,469.8 1003.5,471.5 1007.5,473.3 1011.5,479.6 1015.5,488.9 1019.5,492.6 1023.5,492.2 1027.5,492.0 1031.5,494.2 1035.5,496.3 1039.5,495.5 1043.5,490.9 1047.5,484.4 1051.5,480.8 1055.5,479.5 1059.5,477.2 1063.5,475.8 1067.5,466.9 1071.5,456.1 1075.5,449.5 1079.5,441.3 1083.5,431.0 1087.5,421.0 1091.5,411.8 1095.5,409.7 1099.5,412.2 1103.5,414.0 1107.5,415.2 1111.5,413.1 1115.5,407.1 1119.5,398.4 1123.5,388.1 1127.5,377.8" fill="none" stroke="#0000ff" stroke-width="1" shape-rendering="crispEdges"/>
</g>
<g shape-rendering="crispEdges">
<rect x="2" y="362" width="7" height="7" fill="#ff0000"/><rect x="5" y="365" width="1" height="1" fill="#fff"/>
<rect x="1412" y="362" width="7" height="7" fill="#ff0000"/><rect x="1415" y="365" width="1" height="1" fill="#fff"/>
<rect x="2" y="442" width="7" height="7" fill="#00ff00"/><rect x="5" y="445" width="1" height="1" fill="#fff"/>
<rect x="1412" y="442" width="7" height="7" fill="#00ff00"/><rect x="1415" y="445" width="1" height="1" fill="#fff"/>
</g>
<polygon points="1128.5,23 1138.5,23 1133.5,28.5" fill="#c0c0c0"/>
<rect x="4" y="23" width="223" height="85" fill="#fff"/>
<text x="18.7" y="34" font-size="10" letter-spacing="-0.17" fill="#000" stroke="#000" stroke-width="0.15">AUDUSD-,Daily</text>
<text x="92.8" y="34" font-size="10" letter-spacing="-0.35" fill="#000" stroke="#000" stroke-width="0.15">0.69145 0.69168 0.69031 0.69144</text>
<polygon points="6,33.5 13,33.5 9.5,28.5" fill="#000"/>
<defs>
<linearGradient id="gtab" x1="0" y1="0" x2="0" y2="1"><stop offset="0" stop-color="#f65050"/><stop offset="1" stop-color="#d42a2a"/></linearGradient>
<linearGradient id="gbox" x1="0" y1="0" x2="0" y2="1"><stop offset="0" stop-color="#de3030"/><stop offset="0.5" stop-color="#c81818"/><stop offset="1" stop-color="#b00000"/></linearGradient>
<linearGradient id="gbtn" x1="0" y1="0" x2="0" y2="1"><stop offset="0" stop-color="#f4f4f4"/><stop offset="0.45" stop-color="#e6e6e6"/><stop offset="0.5" stop-color="#d8d8d8"/><stop offset="1" stop-color="#cfcfcf"/></linearGradient>
</defs>
<g shape-rendering="crispEdges">
<path d="M6 42 H58 V66 H115 V106 H6 Z" fill="url(#gbox)" stroke="#a00000" stroke-width="0"/>
<rect x="6" y="42" width="52" height="24" fill="url(#gtab)"/>
<rect x="6" y="42" width="52" height="1" fill="#b00000"/>
<rect x="10" y="65" width="44" height="1" fill="#7a0000"/>
<rect x="10" y="66" width="44" height="1" fill="#f07070"/>
<path d="M117 66 H173 V42 H225 V106 H117 Z" fill="url(#gbox)"/>
<rect x="173" y="42" width="52" height="24" fill="url(#gtab)"/>
<rect x="173" y="42" width="52" height="1" fill="#b00000"/>
<rect x="177" y="65" width="44" height="1" fill="#7a0000"/>
<rect x="177" y="66" width="44" height="1" fill="#f07070"/>
<rect x="60" y="42" width="111" height="22" fill="#a9adb5"/>
<rect x="61" y="43" width="109" height="20" fill="#fff"/>
<rect x="61" y="43" width="20" height="20" fill="url(#gbtn)"/>
<rect x="81" y="43" width="1" height="20" fill="#a9adb5"/>
<rect x="150" y="43" width="20" height="20" fill="url(#gbtn)"/>
<rect x="149" y="43" width="1" height="20" fill="#a9adb5"/>
</g>
<polygon points="68,51 74,51 71,54" fill="#4a5fc0"/>
<polygon points="157,55 163,55 160,52" fill="#4a5fc0"/>
<text x="145.5" y="57" font-size="12" text-anchor="end" fill="#000">1.00</text>
<text x="31" y="57.5" font-size="11.2" text-anchor="middle" fill="#fff">SELL</text>
<text x="198" y="57.5" font-size="11.2" text-anchor="middle" fill="#fff">BUY</text>
<text x="26" y="97" font-size="12.5" font-weight="bold" fill="#fff">0.69</text>
<text x="53" y="97" font-size="33" fill="#fff">14</text>
<text x="93" y="81.5" font-size="12.5" fill="#fff">4</text>
<text x="136" y="97" font-size="12.5" font-weight="bold" fill="#fff">0.69</text>
<text x="164" y="97" font-size="33" fill="#fff">16</text>
<text x="204" y="81.5" font-size="12.5" fill="#fff">4</text>
<g shape-rendering="crispEdges">
<rect x="1419" y="32" width="2" height="1" fill="#000"/>
<rect x="1419" y="65" width="2" height="1" fill="#000"/>
<rect x="1419" y="98" width="2" height="1" fill="#000"/>
<rect x="1419" y="131" width="2" height="1" fill="#000"/>
<rect x="1419" y="164" width="2" height="1" fill="#000"/>
<rect x="1419" y="197" width="2" height="1" fill="#000"/>
<rect x="1419" y="230" width="2" height="1" fill="#000"/>
<rect x="1419" y="263" width="2" height="1" fill="#000"/>
<rect x="1419" y="296" width="2" height="1" fill="#000"/>
<rect x="1419" y="329" width="2" height="1" fill="#000"/>
<rect x="1419" y="362" width="2" height="1" fill="#000"/>
<rect x="1419" y="395" width="2" height="1" fill="#000"/>
<rect x="1419" y="428" width="2" height="1" fill="#000"/>
<rect x="1419" y="461" width="2" height="1" fill="#000"/>
<rect x="1419" y="494" width="2" height="1" fill="#000"/>
<rect x="1419" y="527" width="2" height="1" fill="#000"/>
<rect x="1419" y="560" width="2" height="1" fill="#000"/>
<rect x="1419" y="567" width="2" height="1" fill="#000"/><rect x="1419" y="668" width="2" height="1" fill="#000"/>
<rect x="1419" y="604" width="2" height="1" fill="#000"/>
<rect x="1419" y="673" width="2" height="1" fill="#000"/><rect x="1419" y="711" width="2" height="1" fill="#000"/><rect x="1419" y="762" width="2" height="1" fill="#000"/><rect x="1419" y="800" width="2" height="1" fill="#000"/>
</g>
<g font-size="9.9" fill="#000" stroke="#000" stroke-width="0.12">
<text x="1424" y="36" textLength="32.6" lengthAdjust="spacingAndGlyphs">0.73150</text>
<text x="1424" y="69" textLength="32.6" lengthAdjust="spacingAndGlyphs">0.72740</text>
<text x="1424" y="102" textLength="32.6" lengthAdjust="spacingAndGlyphs">0.72330</text>
<text x="1424" y="135" textLength="32.6" lengthAdjust="spacingAndGlyphs">0.71920</text>
<text x="1424" y="168" textLength="32.6" lengthAdjust="spacingAndGlyphs">0.71510</text>
<text x="1424" y="201" textLength="32.6" lengthAdjust="spacingAndGlyphs">0.71100</text>
<text x="1424" y="234" textLength="32.6" lengthAdjust="spacingAndGlyphs">0.70680</text>
<text x="1424" y="267" textLength="32.6" lengthAdjust="spacingAndGlyphs">0.70270</text>
<text x="1424" y="300" textLength="32.6" lengthAdjust="spacingAndGlyphs">0.69860</text>
<text x="1424" y="333" textLength="32.6" lengthAdjust="spacingAndGlyphs">0.69450</text>
<text x="1424" y="399" textLength="32.6" lengthAdjust="spacingAndGlyphs">0.68630</text>
<text x="1424" y="432" textLength="32.6" lengthAdjust="spacingAndGlyphs">0.68220</text>
<text x="1424" y="465" textLength="32.6" lengthAdjust="spacingAndGlyphs">0.67800</text>
<text x="1424" y="498" textLength="32.6" lengthAdjust="spacingAndGlyphs">0.67390</text>
<text x="1424" y="531" textLength="32.6" lengthAdjust="spacingAndGlyphs">0.66980</text>
<text x="1424" y="564" textLength="32.6" lengthAdjust="spacingAndGlyphs">0.66570</text>
<text x="1422" y="576">0.003674</text>
<text x="1422" y="608">0.00</text>
<text x="1422" y="666">-0.006378</text>
<text x="1422" y="682">100</text>
<text x="1422" y="715">70</text>
<text x="1422" y="766">30</text>
<text x="1422" y="798">0</text>
</g>
<rect x="1420" y="279" width="40" height="11" fill="#ff0000" shape-rendering="crispEdges"/>
<text x="1424" y="288" font-size="9.9" textLength="32.6" lengthAdjust="spacingAndGlyphs" fill="#fff">0.70002</text>
<rect x="1420" y="349" width="40" height="11" fill="#000000" shape-rendering="crispEdges"/>
<text x="1424" y="358" font-size="9.9" textLength="32.6" lengthAdjust="spacingAndGlyphs" fill="#fff">0.69144</text>
<rect x="1420" y="359" width="40" height="11" fill="#ff0000" shape-rendering="crispEdges"/>
<text x="1424" y="368" font-size="9.9" textLength="32.6" lengthAdjust="spacingAndGlyphs" fill="#fff">0.69002</text>
<rect x="1420" y="439" width="40" height="11" fill="#00ff00" shape-rendering="crispEdges"/>
<text x="1424" y="448" font-size="9.9" textLength="32.6" lengthAdjust="spacingAndGlyphs" fill="#fff">0.68001</text>
<rect x="1420" y="543" width="40" height="11" fill="#0000ff" shape-rendering="crispEdges"/>
<text x="1424" y="552" font-size="9.9" textLength="32.6" lengthAdjust="spacingAndGlyphs" fill="#fff">0.66705</text>
<g clip-path="url(#cmacd)">
<g shape-rendering="crispEdges" fill="#c0c0c0">
<rect x="3" y="602" width="1" height="2"/>
<rect x="7" y="604" width="1" height="1"/>
<rect x="11" y="604" width="1" height="3"/>
<rect x="15" y="604" width="1" height="3"/>
<rect x="19" y="604" width="1" height="8"/>
<rect x="23" y="604" width="1" height="11"/>
<rect x="27" y="604" width="1" height="14"/>
<rect x="31" y="604" width="1" height="15"/>
<rect x="35" y="604" width="1" height="21"/>
<rect x="39" y="604" width="1" height="26"/>
<rect x="43" y="604" width="1" height="35"/>
<rect x="47" y="604" width="1" height="41"/>
<rect x="51" y="604" width="1" height="47"/>
<rect x="55" y="604" width="1" height="50"/>
<rect x="59" y="604" width="1" height="49"/>
<rect x="63" y="604" width="1" height="52"/>
<rect x="67" y="604" width="1" height="52"/>
<rect x="71" y="604" width="1" height="52"/>
<rect x="75" y="604" width="1" height="52"/>
<rect x="79" y="604" width="1" height="50"/>
<rect x="83" y="604" width="1" height="59"/>
<rect x="87" y="604" width="1" height="58"/>
<rect x="91" y="604" width="1" height="47"/>
<rect x="95" y="604" width="1" height="38"/>
<rect x="99" y="604" width="1" height="29"/>
<rect x="103" y="604" width="1" height="19"/>
<rect x="107" y="604" width="1" height="11"/>
<rect x="111" y="604" width="1" height="4"/>
<rect x="115" y="600" width="1" height="4"/>
<rect x="119" y="595" width="1" height="9"/>
<rect x="123" y="591" width="1" height="13"/>
<rect x="127" y="587" width="1" height="17"/>
<rect x="131" y="587" width="1" height="17"/>
<rect x="135" y="586" width="1" height="18"/>
<rect x="139" y="587" width="1" height="17"/>
<rect x="143" y="589" width="1" height="15"/>
<rect x="147" y="590" width="1" height="14"/>
<rect x="151" y="595" width="1" height="9"/>
<rect x="155" y="596" width="1" height="8"/>
<rect x="159" y="602" width="1" height="2"/>
<rect x="163" y="600" width="1" height="4"/>
<rect x="167" y="598" width="1" height="6"/>
<rect x="171" y="598" width="1" height="6"/>
<rect x="175" y="598" width="1" height="6"/>
<rect x="179" y="589" width="1" height="15"/>
<rect x="183" y="582" width="1" height="22"/>
<rect x="187" y="576" width="1" height="28"/>
<rect x="191" y="576" width="1" height="28"/>
<rect x="195" y="578" width="1" height="26"/>
<rect x="199" y="576" width="1" height="28"/>
<rect x="203" y="587" width="1" height="17"/>
<rect x="207" y="597" width="1" height="7"/>
<rect x="211" y="604" width="1" height="1"/>
<rect x="215" y="604" width="1" height="6"/>
<rect x="219" y="604" width="1" height="14"/>
<rect x="223" y="604" width="1" height="15"/>
<rect x="227" y="604" width="1" height="18"/>
<rect x="231" y="604" width="1" height="18"/>
<rect x="235" y="604" width="1" height="16"/>
<rect x="239" y="604" width="1" height="13"/>
<rect x="243" y="604" width="1" height="13"/>
<rect x="247" y="604" width="1" height="9"/>
<rect x="251" y="604" width="1" height="6"/>
<rect x="255" y="604" width="1" height="8"/>
<rect x="259" y="604" width="1" height="8"/>
<rect x="263" y="604" width="1" height="5"/>
<rect x="267" y="604" width="1" height="2"/>
<rect x="271" y="602" width="1" height="2"/>
<rect x="275" y="603" width="1" height="1"/>
<rect x="279" y="604" width="1" height="3"/>
<rect x="283" y="604" width="1" height="8"/>
<rect x="287" y="604" width="1" height="10"/>
<rect x="291" y="604" width="1" height="13"/>
<rect x="295" y="604" width="1" height="14"/>
<rect x="299" y="604" width="1" height="20"/>
<rect x="303" y="604" width="1" height="25"/>
<rect x="307" y="604" width="1" height="27"/>
<rect x="311" y="604" width="1" height="29"/>
<rect x="315" y="604" width="1" height="27"/>
<rect x="319" y="604" width="1" height="26"/>
<rect x="323" y="604" width="1" height="23"/>
<rect x="327" y="604" width="1" height="22"/>
<rect x="331" y="604" width="1" height="20"/>
<rect x="335" y="604" width="1" height="18"/>
<rect x="339" y="604" width="1" height="15"/>
<rect x="343" y="604" width="1" height="13"/>
<rect x="347" y="604" width="1" height="8"/>
<rect x="351" y="604" width="1" height="6"/>
<rect x="355" y="604" width="1" height="7"/>
<rect x="359" y="604" width="1" height="7"/>
<rect x="363" y="604" width="1" height="4"/>
<rect x="367" y="604" width="1" height="1"/>
<rect x="371" y="604" width="1" height="2"/>
<rect x="375" y="604" width="1" height="3"/>
<rect x="379" y="604" width="1" height="2"/>
<rect x="383" y="604" width="1" height="1"/>
<rect x="387" y="604" width="1" height="0"/>
<rect x="391" y="604" width="1" height="3"/>
<rect x="395" y="604" width="1" height="1"/>
<rect x="399" y="604" width="1" height="0"/>
<rect x="403" y="604" width="1" height="0"/>
<rect x="407" y="604" width="1" height="0"/>
<rect x="411" y="602" width="1" height="2"/>
<rect x="415" y="600" width="1" height="4"/>
<rect x="419" y="595" width="1" height="9"/>
<rect x="423" y="596" width="1" height="8"/>
<rect x="427" y="592" width="1" height="12"/>
<rect x="431" y="589" width="1" height="15"/>
<rect x="435" y="587" width="1" height="17"/>
<rect x="439" y="586" width="1" height="18"/>
<rect x="443" y="585" width="1" height="19"/>
<rect x="447" y="586" width="1" height="18"/>
<rect x="451" y="588" width="1" height="16"/>
<rect x="455" y="590" width="1" height="14"/>
<rect x="459" y="595" width="1" height="9"/>
<rect x="463" y="604" width="1" height="2"/>
<rect x="467" y="604" width="1" height="10"/>
<rect x="471" y="604" width="1" height="14"/>
<rect x="475" y="604" width="1" height="17"/>
<rect x="479" y="604" width="1" height="18"/>
<rect x="483" y="604" width="1" height="19"/>
<rect x="487" y="604" width="1" height="23"/>
<rect x="491" y="604" width="1" height="27"/>
<rect x="495" y="604" width="1" height="28"/>
<rect x="499" y="604" width="1" height="32"/>
<rect x="503" y="604" width="1" height="33"/>
<rect x="507" y="604" width="1" height="33"/>
<rect x="511" y="604" width="1" height="33"/>
<rect x="515" y="604" width="1" height="34"/>
<rect x="519" y="604" width="1" height="33"/>
<rect x="523" y="604" width="1" height="33"/>
<rect x="527" y="604" width="1" height="35"/>
<rect x="531" y="604" width="1" height="38"/>
<rect x="535" y="604" width="1" height="40"/>
<rect x="539" y="604" width="1" height="44"/>
<rect x="543" y="604" width="1" height="49"/>
<rect x="547" y="604" width="1" height="49"/>
<rect x="551" y="604" width="1" height="47"/>
<rect x="555" y="604" width="1" height="48"/>
<rect x="559" y="604" width="1" height="49"/>
<rect x="563" y="604" width="1" height="47"/>
<rect x="567" y="604" width="1" height="43"/>
<rect x="571" y="604" width="1" height="39"/>
<rect x="575" y="604" width="1" height="36"/>
<rect x="579" y="604" width="1" height="33"/>
<rect x="583" y="604" width="1" height="32"/>
<rect x="587" y="604" width="1" height="30"/>
<rect x="591" y="604" width="1" height="27"/>
<rect x="595" y="604" width="1" height="24"/>
<rect x="599" y="604" width="1" height="19"/>
<rect x="603" y="604" width="1" height="12"/>
<rect x="607" y="604" width="1" height="9"/>
<rect x="611" y="604" width="1" height="6"/>
<rect x="615" y="604" width="1" height="1"/>
<rect x="619" y="602" width="1" height="2"/>
<rect x="623" y="602" width="1" height="2"/>
<rect x="627" y="603" width="1" height="1"/>
<rect x="631" y="604" width="1" height="1"/>
<rect x="635" y="604" width="1" height="5"/>
<rect x="639" y="604" width="1" height="11"/>
<rect x="643" y="604" width="1" height="15"/>
<rect x="647" y="604" width="1" height="20"/>
<rect x="651" y="604" width="1" height="22"/>
<rect x="655" y="604" width="1" height="22"/>
<rect x="659" y="604" width="1" height="19"/>
<rect x="663" y="604" width="1" height="16"/>
<rect x="667" y="604" width="1" height="12"/>
<rect x="671" y="604" width="1" height="7"/>
<rect x="675" y="604" width="1" height="4"/>
<rect x="679" y="603" width="1" height="1"/>
<rect x="683" y="598" width="1" height="6"/>
<rect x="687" y="593" width="1" height="11"/>
<rect x="691" y="589" width="1" height="15"/>
<rect x="695" y="590" width="1" height="14"/>
<rect x="699" y="589" width="1" height="15"/>
<rect x="703" y="586" width="1" height="18"/>
<rect x="707" y="584" width="1" height="20"/>
<rect x="711" y="586" width="1" height="18"/>
<rect x="715" y="588" width="1" height="16"/>
<rect x="719" y="590" width="1" height="14"/>
<rect x="723" y="596" width="1" height="8"/>
<rect x="727" y="597" width="1" height="7"/>
<rect x="731" y="598" width="1" height="6"/>
<rect x="735" y="594" width="1" height="10"/>
<rect x="739" y="592" width="1" height="12"/>
<rect x="743" y="589" width="1" height="15"/>
<rect x="747" y="588" width="1" height="16"/>
<rect x="751" y="588" width="1" height="16"/>
<rect x="755" y="584" width="1" height="20"/>
<rect x="759" y="583" width="1" height="21"/>
<rect x="763" y="582" width="1" height="22"/>
<rect x="767" y="583" width="1" height="21"/>
<rect x="771" y="587" width="1" height="17"/>
<rect x="775" y="591" width="1" height="13"/>
<rect x="779" y="597" width="1" height="7"/>
<rect x="783" y="604" width="1" height="1"/>
<rect x="787" y="604" width="1" height="8"/>
<rect x="791" y="604" width="1" height="13"/>
<rect x="795" y="604" width="1" height="19"/>
<rect x="799" y="604" width="1" height="26"/>
<rect x="803" y="604" width="1" height="35"/>
<rect x="807" y="604" width="1" height="42"/>
<rect x="811" y="604" width="1" height="47"/>
<rect x="815" y="604" width="1" height="53"/>
<rect x="819" y="604" width="1" height="57"/>
<rect x="823" y="604" width="1" height="60"/>
<rect x="827" y="604" width="1" height="57"/>
<rect x="831" y="604" width="1" height="56"/>
<rect x="835" y="604" width="1" height="55"/>
<rect x="839" y="604" width="1" height="56"/>
<rect x="843" y="604" width="1" height="53"/>
<rect x="847" y="604" width="1" height="53"/>
<rect x="851" y="604" width="1" height="51"/>
<rect x="855" y="604" width="1" height="48"/>
<rect x="859" y="604" width="1" height="45"/>
<rect x="863" y="604" width="1" height="44"/>
<rect x="867" y="604" width="1" height="42"/>
<rect x="871" y="604" width="1" height="39"/>
<rect x="875" y="604" width="1" height="38"/>
<rect x="879" y="604" width="1" height="38"/>
<rect x="883" y="604" width="1" height="40"/>
<rect x="887" y="604" width="1" height="37"/>
<rect x="891" y="604" width="1" height="35"/>
<rect x="895" y="604" width="1" height="34"/>
<rect x="899" y="604" width="1" height="34"/>
<rect x="903" y="604" width="1" height="34"/>
<rect x="907" y="604" width="1" height="33"/>
<rect x="911" y="604" width="1" height="34"/>
<rect x="915" y="604" width="1" height="30"/>
<rect x="919" y="604" width="1" height="23"/>
<rect x="923" y="604" width="1" height="17"/>
<rect x="927" y="604" width="1" height="9"/>
<rect x="931" y="604" width="1" height="2"/>
<rect x="935" y="600" width="1" height="4"/>
<rect x="939" y="595" width="1" height="9"/>
<rect x="943" y="591" width="1" height="13"/>
<rect x="947" y="588" width="1" height="16"/>
<rect x="951" y="585" width="1" height="19"/>
<rect x="955" y="583" width="1" height="21"/>
<rect x="959" y="583" width="1" height="21"/>
<rect x="963" y="582" width="1" height="22"/>
<rect x="967" y="586" width="1" height="18"/>
<rect x="971" y="591" width="1" height="13"/>
<rect x="975" y="598" width="1" height="6"/>
<rect x="979" y="603" width="1" height="1"/>
<rect x="983" y="604" width="1" height="2"/>
<rect x="987" y="604" width="1" height="3"/>
<rect x="991" y="604" width="1" height="7"/>
<rect x="995" y="604" width="1" height="10"/>
<rect x="999" y="604" width="1" height="12"/>
<rect x="1003" y="604" width="1" height="13"/>
<rect x="1007" y="604" width="1" height="15"/>
<rect x="1011" y="604" width="1" height="20"/>
<rect x="1015" y="604" width="1" height="23"/>
<rect x="1019" y="604" width="1" height="22"/>
<rect x="1023" y="604" width="1" height="19"/>
<rect x="1027" y="604" width="1" height="18"/>
<rect x="1031" y="604" width="1" height="18"/>
<rect x="1035" y="604" width="1" height="19"/>
<rect x="1039" y="604" width="1" height="20"/>
<rect x="1043" y="604" width="1" height="18"/>
<rect x="1047" y="604" width="1" height="12"/>
<rect x="1051" y="604" width="1" height="8"/>
<rect x="1055" y="604" width="1" height="6"/>
<rect x="1059" y="604" width="1" height="7"/>
<rect x="1063" y="604" width="1" height="7"/>
<rect x="1067" y="604" width="1" height="1"/>
<rect x="1071" y="599" width="1" height="5"/>
<rect x="1075" y="594" width="1" height="10"/>
<rect x="1079" y="589" width="1" height="15"/>
<rect x="1083" y="585" width="1" height="19"/>
<rect x="1087" y="584" width="1" height="20"/>
<rect x="1091" y="586" width="1" height="18"/>
<rect x="1095" y="587" width="1" height="17"/>
<rect x="1099" y="588" width="1" height="16"/>
<rect x="1103" y="588" width="1" height="16"/>
<rect x="1107" y="586" width="1" height="18"/>
<rect x="1111" y="582" width="1" height="22"/>
<rect x="1115" y="579" width="1" height="25"/>
<rect x="1119" y="576" width="1" height="28"/>
<rect x="1123" y="573" width="1" height="31"/>
<rect x="1127" y="572" width="1" height="32"/>
</g>
<polyline points="3.5,579.5 7.5,583.7 11.5,587.9 15.5,591.8 19.5,595.8 23.5,600.0 27.5,604.0 31.5,607.9 35.5,612.1 39.5,615.3 43.5,619.1 47.5,623.4 51.5,628.2 55.5,632.8 59.5,637.1 63.5,641.3 67.5,645.4 71.5,648.8 75.5,651.7 79.5,653.3 83.5,655.3 87.5,656.5 91.5,656.3 95.5,655.0 99.5,652.5 103.5,648.8 107.5,644.3 111.5,639.0 115.5,633.0 119.5,625.4 123.5,617.5 127.5,610.4 131.5,604.3 135.5,599.2 139.5,595.1 143.5,592.2 147.5,590.3 151.5,589.7 155.5,590.0 159.5,591.2 163.5,592.6 167.5,593.8 171.5,595.1 175.5,596.3 179.5,596.3 183.5,595.4 187.5,593.2 191.5,590.9 195.5,588.2 199.5,585.6 203.5,584.4 207.5,584.3 211.5,585.0 215.5,587.4 219.5,591.3 223.5,596.1 227.5,601.2 231.5,606.2 235.5,611.0 239.5,614.4 243.5,616.6 247.5,617.5 251.5,617.4 255.5,616.8 259.5,616.0 263.5,614.6 267.5,612.8 271.5,610.9 275.5,609.2 279.5,608.1 283.5,608.1 287.5,608.6 291.5,609.1 295.5,609.9 299.5,611.6 303.5,614.1 307.5,617.3 311.5,620.6 315.5,623.3 319.5,625.2 323.5,626.7 327.5,627.7 331.5,628.3 335.5,628.0 339.5,626.8 343.5,625.3 347.5,623.0 351.5,620.7 355.5,618.5 359.5,616.7 363.5,614.7 367.5,612.5 371.5,610.8 375.5,609.5 379.5,608.3 383.5,607.5 387.5,606.8 391.5,606.4 395.5,605.7 399.5,605.3 403.5,605.2 407.5,605.0 411.5,604.4 415.5,603.7 419.5,602.7 423.5,601.8 427.5,600.1 431.5,598.4 435.5,596.5 439.5,594.6 443.5,592.5 447.5,590.8 451.5,589.4 455.5,588.8 459.5,588.7 463.5,590.2 467.5,592.9 471.5,596.4 475.5,600.2 479.5,604.4 483.5,608.5 487.5,612.9 491.5,617.4 495.5,621.6 499.5,625.0 503.5,627.6 507.5,629.7 511.5,631.5 515.5,633.2 519.5,634.7 523.5,635.7 527.5,636.6 531.5,637.7 535.5,638.6 539.5,639.7 543.5,641.5 547.5,643.3 551.5,644.8 555.5,646.6 559.5,648.4 563.5,649.7 567.5,650.2 571.5,650.1 575.5,649.2 579.5,647.4 583.5,645.5 587.5,643.7 591.5,641.3 595.5,638.5 599.5,635.3 603.5,632.0 607.5,628.7 611.5,625.3 615.5,621.7 619.5,617.9 623.5,614.3 627.5,611.2 631.5,608.7 635.5,607.2 639.5,607.1 643.5,607.8 647.5,609.4 651.5,611.8 655.5,614.5 659.5,616.8 663.5,618.8 667.5,620.0 671.5,620.3 675.5,619.5 679.5,617.7 683.5,614.7 687.5,611.1 691.5,606.9 695.5,603.2 699.5,599.8 703.5,596.3 707.5,593.2 711.5,590.8 715.5,589.0 719.5,588.1 723.5,588.4 727.5,589.4 731.5,590.2 735.5,590.8 739.5,591.5 743.5,592.1 747.5,592.4 751.5,592.5 755.5,591.8 759.5,590.4 763.5,588.7 767.5,587.0 771.5,586.2 775.5,586.1 779.5,587.0 783.5,588.9 787.5,591.4 791.5,595.1 795.5,599.6 799.5,604.9 803.5,611.2 807.5,617.7 811.5,624.4 815.5,631.1 819.5,637.3 823.5,643.1 827.5,648.0 831.5,652.0 835.5,655.3 839.5,657.6 843.5,658.8 847.5,659.5 851.5,659.3 855.5,658.3 859.5,656.6 863.5,655.2 867.5,653.7 871.5,651.8 875.5,649.9 879.5,648.2 883.5,646.8 887.5,645.2 891.5,643.8 895.5,642.6 899.5,641.4 903.5,640.5 907.5,639.9 911.5,639.4 915.5,638.5 919.5,636.6 923.5,634.3 927.5,631.4 931.5,627.9 935.5,623.7 939.5,619.0 943.5,613.8 947.5,608.2 951.5,602.8 955.5,597.9 959.5,593.6 963.5,590.3 967.5,588.0 971.5,587.1 975.5,587.4 979.5,588.8 983.5,590.8 987.5,593.3 991.5,596.4 995.5,600.0 999.5,603.7 1003.5,607.2 1007.5,610.3 1011.5,613.1 1015.5,615.7 1019.5,618.0 1023.5,619.8 1027.5,620.9 1031.5,621.8 1035.5,622.6 1039.5,623.4 1043.5,623.7 1047.5,622.9 1051.5,621.2 1055.5,619.5 1059.5,618.1 1063.5,616.9 1067.5,615.0 1071.5,612.3 1075.5,608.9 1079.5,605.2 1083.5,601.8 1087.5,598.6 1091.5,595.9 1095.5,593.2 1099.5,590.6 1103.5,588.7 1107.5,587.2 1111.5,585.9 1115.5,584.8 1119.5,583.8 1123.5,582.7 1127.5,581.1" fill="none" stroke="#ff0000" stroke-width="1" stroke-dasharray="3,3" shape-rendering="crispEdges"/>
</g>
<text x="7.3" y="578" font-size="10" letter-spacing="-0.35" fill="#000" stroke="#000" stroke-width="0.12">MACD(12,26,9) 0.003217 0.002270</text>
<rect x="663" y="567" width="1" height="15" fill="#ff0000" shape-rendering="crispEdges"/>
<g clip-path="url(#crsi)">
<line x1="3" y1="711.5" x2="1418" y2="711.5" stroke="#c0c0c0" stroke-width="1" stroke-dasharray="3,3" shape-rendering="crispEdges"/>
<line x1="3" y1="762.5" x2="1418" y2="762.5" stroke="#c0c0c0" stroke-width="1" stroke-dasharray="3,3" shape-rendering="crispEdges"/>
<polyline points="3.5,746.2 7.5,742.2 11.5,741.5 15.5,740.1 19.5,747.6 23.5,748.0 27.5,747.4 31.5,744.3 35.5,755.9 39.5,755.1 43.5,763.1 47.5,761.6 51.5,763.1 55.5,760.5 59.5,754.3 63.5,759.2 67.5,755.9 71.5,756.4 75.5,757.3 79.5,754.5 83.5,769.3 87.5,750.8 91.5,735.2 95.5,734.5 99.5,731.9 103.5,729.4 107.5,728.3 111.5,726.7 115.5,724.3 119.5,725.4 123.5,725.9 127.5,724.7 131.5,732.1 135.5,729.0 139.5,733.5 143.5,734.5 147.5,735.3 151.5,742.8 155.5,737.2 159.5,746.8 163.5,731.9 167.5,732.2 171.5,734.8 175.5,735.9 179.5,719.3 183.5,721.1 187.5,719.0 191.5,729.1 195.5,732.4 199.5,727.3 203.5,745.8 207.5,747.4 211.5,748.4 215.5,745.9 219.5,750.4 223.5,743.1 227.5,744.6 231.5,743.2 235.5,737.7 239.5,737.0 243.5,739.4 247.5,733.6 251.5,733.4 255.5,743.0 259.5,738.7 263.5,735.0 267.5,732.7 271.5,729.5 275.5,737.5 279.5,744.1 283.5,748.1 287.5,743.2 291.5,744.8 295.5,745.0 299.5,752.7 303.5,753.7 307.5,748.3 311.5,750.0 315.5,742.7 319.5,744.5 323.5,739.6 327.5,742.8 331.5,739.1 335.5,739.6 339.5,736.5 343.5,739.1 347.5,729.7 351.5,735.7 355.5,740.7 359.5,740.2 363.5,732.9 367.5,729.3 371.5,740.2 375.5,740.4 379.5,736.9 383.5,734.1 387.5,735.0 391.5,745.1 395.5,733.4 399.5,735.1 403.5,736.3 407.5,736.6 411.5,732.5 415.5,730.9 419.5,723.8 423.5,735.1 427.5,725.7 431.5,726.6 435.5,725.9 439.5,728.0 443.5,726.4 447.5,732.9 451.5,732.6 455.5,736.6 459.5,744.4 463.5,757.5 467.5,756.3 471.5,750.7 475.5,750.1 479.5,747.0 483.5,748.1 487.5,754.4 491.5,757.4 495.5,750.9 499.5,757.5 503.5,752.0 507.5,748.6 511.5,751.3 515.5,752.2 519.5,749.0 523.5,751.8 527.5,758.2 531.5,759.5 535.5,760.8 539.5,765.6 543.5,768.8 547.5,756.9 551.5,752.5 555.5,758.1 559.5,758.9 563.5,751.7 567.5,744.8 571.5,744.8 575.5,746.6 579.5,745.5 583.5,749.2 587.5,749.2 591.5,740.3 595.5,742.5 599.5,731.9 603.5,727.4 607.5,733.4 611.5,731.9 615.5,725.5 619.5,728.0 623.5,738.0 627.5,737.4 631.5,744.5 635.5,748.3 639.5,756.1 643.5,752.5 647.5,757.1 651.5,748.4 655.5,747.4 659.5,738.7 663.5,737.4 667.5,733.2 671.5,729.1 675.5,730.4 679.5,725.5 683.5,721.8 687.5,719.1 691.5,718.7 695.5,735.4 699.5,728.5 703.5,722.6 707.5,724.5 711.5,734.5 715.5,734.5 719.5,736.2 723.5,745.8 727.5,738.1 731.5,735.9 735.5,726.3 739.5,728.0 743.5,724.5 747.5,729.9 751.5,731.6 755.5,721.5 759.5,727.6 763.5,727.2 767.5,730.4 771.5,737.7 775.5,741.0 779.5,746.0 783.5,752.9 787.5,752.9 791.5,754.1 795.5,757.6 799.5,761.6 803.5,766.8 807.5,767.1 811.5,767.5 815.5,770.7 819.5,770.8 823.5,771.3 827.5,754.0 831.5,756.8 835.5,759.2 839.5,762.1 843.5,750.1 847.5,756.7 851.5,751.8 855.5,749.1 859.5,748.8 863.5,753.9 867.5,749.1 871.5,746.2 875.5,751.5 879.5,751.9 883.5,758.9 887.5,743.8 891.5,745.7 895.5,749.0 899.5,749.6 903.5,750.8 907.5,751.1 911.5,753.8 915.5,740.1 919.5,733.0 923.5,730.2 927.5,723.9 931.5,724.2 935.5,721.2 939.5,722.6 943.5,719.8 947.5,723.8 951.5,720.4 955.5,721.5 959.5,726.2 963.5,725.4 967.5,737.5 971.5,744.8 975.5,750.2 979.5,748.8 983.5,746.9 987.5,740.0 991.5,749.6 995.5,749.8 999.5,747.3 1003.5,746.9 1007.5,749.4 1011.5,757.9 1015.5,757.9 1019.5,746.0 1023.5,739.0 1027.5,740.5 1031.5,747.6 1035.5,748.4 1039.5,750.5 1043.5,738.2 1047.5,729.9 1051.5,730.6 1055.5,736.3 1059.5,741.2 1063.5,740.8 1067.5,725.5 1071.5,721.0 1075.5,722.3 1079.5,718.7 1083.5,721.5 1087.5,724.3 1091.5,733.4 1095.5,732.6 1099.5,732.0 1103.5,728.1 1107.5,724.3 1111.5,716.9 1115.5,718.8 1119.5,716.0 1123.5,715.0 1127.5,715.0" fill="none" stroke="#1e90ff" stroke-width="1" shape-rendering="crispEdges"/>
</g>
<text x="7.3" y="684" font-size="10" letter-spacing="-0.4" fill="#000" stroke="#000" stroke-width="0.12">RSI(14) 67.8571</text>
<g shape-rendering="crispEdges" fill="#000">
<rect x="3" y="802" width="1" height="3"/>
<rect x="67" y="802" width="1" height="3"/>
<rect x="131" y="802" width="1" height="3"/>
<rect x="195" y="802" width="1" height="3"/>
<rect x="259" y="802" width="1" height="3"/>
<rect x="323" y="802" width="1" height="3"/>
<rect x="387" y="802" width="1" height="3"/>
<rect x="451" y="802" width="1" height="3"/>
<rect x="515" y="802" width="1" height="3"/>
<rect x="579" y="802" width="1" height="3"/>
<rect x="643" y="802" width="1" height="3"/>
<rect x="707" y="802" width="1" height="3"/>
<rect x="771" y="802" width="1" height="3"/>
<rect x="835" y="802" width="1" height="3"/>
<rect x="899" y="802" width="1" height="3"/>
<rect x="963" y="802" width="1" height="3"/>
<rect x="1027" y="802" width="1" height="3"/>
<rect x="1091" y="802" width="1" height="3"/>
</g>
<g font-size="10.3" fill="#000" stroke="#000" stroke-width="0.1">
<text x="2.8" y="814" textLength="52.0" lengthAdjust="spacingAndGlyphs">10 Dec 2018</text>
<text x="66.8" y="814" textLength="52.0" lengthAdjust="spacingAndGlyphs">28 Dec 2018</text>
<text x="130.8" y="814" textLength="50.5" lengthAdjust="spacingAndGlyphs">16 Jan 2019</text>
<text x="194.8" y="814" textLength="46.4" lengthAdjust="spacingAndGlyphs">4 Feb 2019</text>
<text x="258.8" y="814" textLength="51.5" lengthAdjust="spacingAndGlyphs">22 Feb 2019</text>
<text x="322.8" y="814" textLength="51.5" lengthAdjust="spacingAndGlyphs">13 Mar 2019</text>
<text x="386.8" y="814" textLength="44.3" lengthAdjust="spacingAndGlyphs">1 Apr 2019</text>
<text x="450.8" y="814" textLength="49.4" lengthAdjust="spacingAndGlyphs">21 Apr 2019</text>
<text x="514.8" y="814" textLength="47.9" lengthAdjust="spacingAndGlyphs">9 May 2019</text>
<text x="578.8" y="814" textLength="53.0" lengthAdjust="spacingAndGlyphs">28 May 2019</text>
<text x="642.8" y="814" textLength="50.5" lengthAdjust="spacingAndGlyphs">16 Jun 2019</text>
<text x="706.8" y="814" textLength="42.3" lengthAdjust="spacingAndGlyphs">4 Jul 2019</text>
<text x="770.8" y="814" textLength="47.4" lengthAdjust="spacingAndGlyphs">23 Jul 2019</text>
<text x="834.8" y="814" textLength="50.8" lengthAdjust="spacingAndGlyphs">11 Aug 2019</text>
<text x="898.8" y="814" textLength="51.5" lengthAdjust="spacingAndGlyphs">29 Aug 2019</text>
<text x="962.8" y="814" textLength="52.0" lengthAdjust="spacingAndGlyphs">17 Sep 2019</text>
<text x="1026.8" y="814" textLength="44.8" lengthAdjust="spacingAndGlyphs">6 Oct 2019</text>
<text x="1090.8" y="814" textLength="49.9" lengthAdjust="spacingAndGlyphs">24 Oct 2019</text>
</g>
<g shape-rendering="crispEdges">
<rect x="0" y="822" width="1460" height="1" fill="#dcdcdc"/>
<rect x="0" y="824" width="1460" height="18" fill="#f0f0f0"/>
<rect x="0" y="824" width="113" height="1" fill="#000"/>
<rect x="112" y="824" width="1" height="18" fill="#000"/>
<rect x="113" y="823" width="107" height="19" fill="#fff"/>
<rect x="219" y="824" width="1" height="18" fill="#000"/>
<rect x="219" y="824" width="1241" height="1" fill="#000"/>
<rect x="328" y="827" width="1" height="13" fill="#808080"/>
<rect x="436" y="827" width="1" height="13" fill="#808080"/>
<rect x="548" y="827" width="1" height="13" fill="#808080"/>
<rect x="669" y="827" width="1" height="13" fill="#808080"/>
<rect x="765" y="827" width="1" height="13" fill="#808080"/>
<rect x="861" y="827" width="1" height="13" fill="#808080"/>
<rect x="941" y="827" width="1" height="13" fill="#808080"/>
<rect x="1044" y="827" width="1" height="13" fill="#808080"/>
<rect x="1137" y="827" width="1" height="13" fill="#808080"/>
<rect x="1217" y="827" width="1" height="13" fill="#808080"/>
</g>
<text x="15.3" y="838.5" font-size="11.9" fill="#6d6d6d">EURUSD-,Daily</text>
<text x="121.4" y="838.5" font-size="12.3" fill="#000">AUDUSD-,Daily</text>
<text x="232" y="838.5" font-size="11.9" fill="#6d6d6d">USDCHF-,Daily</text>
<text x="339" y="838.5" font-size="11.9" fill="#6d6d6d">USDCAD-,Daily</text>
<text x="448" y="838.5" font-size="11.9" fill="#6d6d6d">USDCNH-,Daily</text>
<text x="559" y="838.5" font-size="11.9" fill="#6d6d6d">EURCHF-,Weekly</text>
<text x="679" y="838.5" font-size="11.9" fill="#6d6d6d">XAUUSD-,H1</text>
<text x="775.2" y="838.5" font-size="11.9" fill="#6d6d6d">GBPUSD-,H1</text>
<text x="871.3" y="838.5" font-size="11.9" fill="#6d6d6d">UKOil-,H1</text>
<text x="950.2" y="838.5" font-size="11.9" fill="#6d6d6d">USDX-,Weekly</text>
<text x="1054.2" y="838.5" font-size="11.9" fill="#6d6d6d">EURCHF-,H1</text>
<text x="1147.8" y="838.5" font-size="11.9" fill="#6d6d6d">USOil-,H1</text>
<polygon points="1437,829 1437,837 1433,833" fill="#a0a0a0"/>
<polygon points="1453,829 1453,837 1457,833" fill="#a0a0a0"/>
</svg></body></html>
